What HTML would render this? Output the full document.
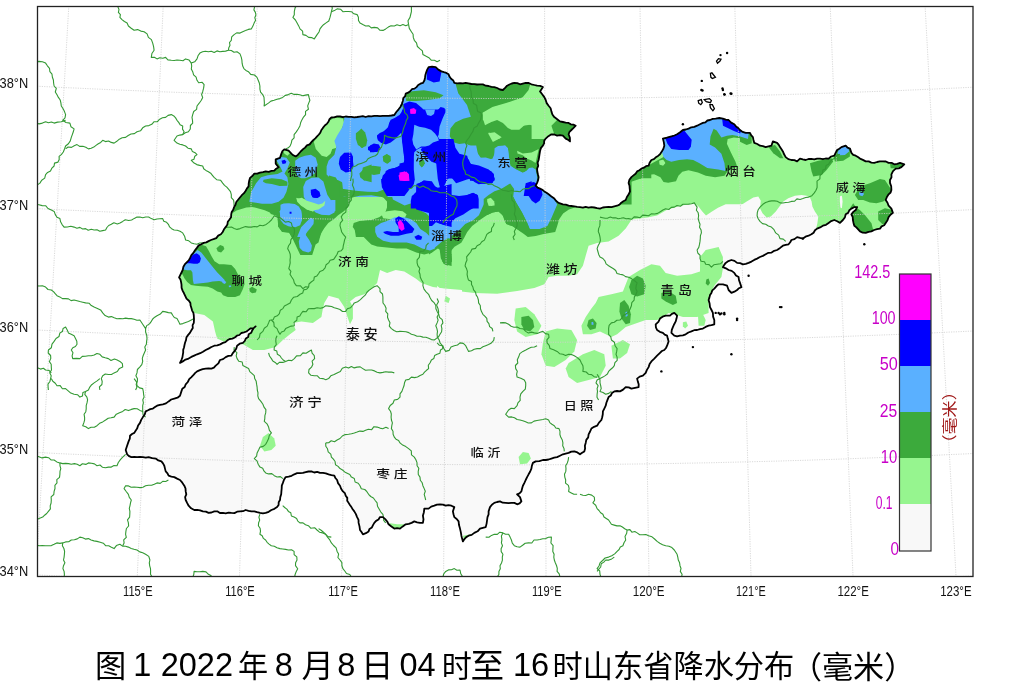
<!DOCTYPE html>
<html><head><meta charset="utf-8"><title>山东省降水分布</title>
<style>html,body{margin:0;padding:0;background:#fff;width:1022px;height:691px;overflow:hidden}
svg{display:block}
</style></head><body>
<svg width="1022" height="691" viewBox="0 0 1022 691">
<rect width="1022" height="691" fill="#fff"/>
<defs><clipPath id="sd"><polygon points="181.5,359.8 184,347.5 186.4,337.6 191.4,330.3 193.8,322.9 193.8,315.5 191.4,308.1 188.9,300.7 185.2,295.8 182.7,290.9 181.5,284.7 179.1,277.4 180.3,274.9 182.7,270 185.2,263.8 188.9,260.1 191.4,255.2 195,250.3 198.7,245.4 203.7,242.9 213.5,239.2 220.9,234.3 225.8,226.9 229.5,219.5 233.2,209.7 238.1,199.8 245.7,190.7 248.6,186.4 250,177.9 254.3,173.6 262.9,172.1 274.3,170.7 278.6,167.3 275.7,163.6 275.7,159.3 280,157.9 281.4,153.6 284.3,149.3 288.6,150.7 291.4,153.6 295.7,156.4 302.9,149.3 311.4,142.1 317.1,136.4 322.9,127.9 327.1,123.6 331.4,117.3 337.1,116.4 354.3,117.3 371.4,116.4 385.7,115.9 394.3,115 398.6,109.3 402.9,100.7 405.7,93.6 422.9,82.9 428.6,67.1 435.7,67.1 441.4,71.4 448.6,74.3 454.3,82.9 465.7,82.9 480,84.3 494.3,87.1 502.9,90 507.1,85.7 514.3,82.9 520,84.3 525.7,82.9 531.4,84.3 537.1,85.7 542.9,87.1 540,91.4 544.3,97.1 548.6,105.7 551.4,111.4 554.3,117.1 560,121.4 568.6,122.9 575.7,125.7 571.4,130 568.6,134.3 570,141.4 565.7,138.6 562.9,135.7 551.4,134.3 545.7,138.6 542.9,145.7 540,151.4 538.6,160 537.1,168.6 538.6,177.1 537.1,182.9 535.7,185.7 540,188.6 544.3,191.4 548.6,194.3 554.3,198.6 558.6,202.9 562.9,204.3 568.6,205.7 580,207.1 591.4,207.1 600,208.6 605.7,207.1 617.1,205.7 625.7,200 630,191.4 628.6,182.9 631.4,177.1 637.1,171.4 648.6,165.7 651.4,160 660,154.3 664.3,145.7 662.9,138.6 668.6,137.1 677.1,134.3 682.9,130 688.6,128.6 697.1,125.7 702.9,122.9 710,120 715.7,118.6 722.9,118.6 728.6,120 734.3,124.3 740,130 745.7,132.9 750,132.9 752.9,137.1 754.3,142.9 760,145.7 765.7,147.1 771.4,145.7 772.9,141.4 777.1,142.9 780,147.1 782.9,151.4 785.7,157.1 791.4,160 797.1,161.4 800,158.6 805.7,160 817.1,158.6 828.6,158.6 834.3,155.7 837.1,150 841.4,147.1 845.7,145.7 850,148.6 851.4,152.9 855.7,155.7 860,158.6 865.7,161.4 874.3,162.9 882.9,161.4 888.6,162.9 894.3,164.3 900,162.9 904.3,164.3 901.4,167.1 895.7,168.6 891.4,174.3 890,182.9 891.4,190 888.6,194.3 885.7,200 888.6,205.7 891.4,208.6 892.9,212.9 888.6,217.1 885.7,222.9 880,228.6 871.4,231.4 865.7,232.9 860,231.4 854.3,225.7 852.9,220 851.4,214.3 855.7,210 857.1,207.1 851.4,208.6 845.7,214.3 842.9,220 840,222.9 834.3,220 828.6,222.9 822.9,225.7 817.1,228.6 811.4,234.3 808.6,235.7 802.9,238.6 797.1,237.1 791.4,240 788.6,244.3 782.9,245.7 777.1,250 765.7,254.3 757.1,258.6 748.6,262.9 742.9,264.3 737.1,262.9 731.4,260 725.7,262.9 722.9,267.1 728.6,270 734.3,272.9 738.6,277.1 740,282.9 741.4,287.1 737.1,290 731.4,292.9 728.6,290 727.1,285.7 722.9,284.3 718.6,284.3 714.3,288.6 711.4,292.9 708.6,300 710,307.1 712.9,312.9 714.3,320 714.3,324.3 708.6,325.7 702.9,328.6 697.1,330 691.4,331.4 685.7,334.3 680,335.7 674.3,335.7 671.4,332.9 672.9,327.1 675.7,321.4 677.1,315.7 674.3,312.9 670,315.7 665.7,315.7 660,318.6 655.7,324.3 657.1,330 662.9,332.9 667.1,335.7 668.6,341.4 667.1,345.7 664.3,350 660,352.9 657.1,355.7 654.3,358.6 651.4,361.4 648.6,367.1 645.7,372.9 642.9,375.7 637.1,378.6 638.6,387.1 631.4,388.6 625.7,387.1 620,391.4 614.3,391.4 608.6,397.1 605.7,405.7 602.9,411.4 601.4,420 597.1,425.7 591.4,428.6 588.6,434.3 585.7,442.9 584.3,451.4 580,454.3 574.3,451.4 568.6,452.9 562.9,454.3 557.1,457.1 551.4,458.6 542.9,460 535.7,461.4 532.9,462.9 531.4,468.6 528.6,474.3 525.7,480 522.9,485.7 521.4,491.4 517.1,494.3 520,497.1 521.4,501.4 517.1,504.3 511.4,502.9 505.7,502.9 500,501.4 494.3,502.9 490,507.1 488.6,511.4 487.1,520 485.7,527.1 480,528.6 474.3,532.9 468.6,535.7 462.9,541.4 461.4,535.7 460,528.6 458.6,521.4 454.3,517.1 452.9,511.4 454.3,507.1 451.4,505.7 445.7,505.7 440,504.3 434.3,505.7 428.6,508.6 424.3,508.6 422.9,515.7 422.9,522.9 414.3,521.4 405.7,524.3 400,528.6 394.3,528.6 388.6,524.3 382.9,517.1 380,517.1 374.3,522.9 368.6,531.4 362.9,534.3 360,530 358.6,522.9 357.1,517.1 354.3,511.4 351.4,507.1 348.6,502.9 345.7,495.7 342.9,491.4 340,485.7 337.1,480 334.3,475.7 328.6,474.3 320,472.9 311.4,471.4 302.9,472.9 294.3,474.3 285.7,477.1 282.9,482.9 281.4,491.4 280,500 277.1,507.1 271.4,510 265.7,512.9 260,512.9 254.3,511.4 245.7,510 240,511.4 231.4,512.9 222.9,512.9 214.3,511.4 208.6,512.9 202.9,511.4 194.3,510 188.6,505.7 185.7,500 185.7,491.4 184.3,485.7 180,480 174.3,477.1 168.6,475.7 165.7,471.4 164.3,465.7 161.4,461.4 155.7,458.6 148.6,457.1 142.9,457.1 137.1,457.1 131.4,457.1 127.1,454.3 125.7,450 127.1,445.7 128.6,441.4 130,435.7 134.3,432.9 137.1,428.6 140,422.9 142.9,417.1 145.7,411.4 152.9,408.6 157.1,405.7 162.9,404.3 168.6,401.4 174.3,398.6 180,395.7 181.4,391.4 185.7,384.3 191.4,377.1 197.1,371.4 205.7,368.6 211.4,368.6 215.7,365.7 220,360 225.7,357.1 231.4,355.7 234.3,351.4 237.1,345.7 242.9,342.9 255.6,326.4 222.9,342.9 214.3,345.7 205.7,350 197.1,354.3 188.6,358.6 180,362.9"/></clipPath><clipPath id="fr"><rect x="37" y="6" width="936" height="570"/></clipPath></defs>
<g clip-path="url(#sd)"><rect x="0" y="0" width="1022" height="691" fill="#96f58f"/>
<polygon points="187.1,308.6 194.3,312.9 204.3,314.9 212.9,321.4 215.1,331.4 217.1,338.6 227.1,342.9 242.9,344.3 252.9,350 264.3,350 275.7,347.1 282.9,340 290,334.3 295.7,330 292.9,322.9 301.4,321.4 312.9,322.9 321.4,317.1 322.9,308.6 324.3,302.9 328.6,295.7 338.6,298.6 344.3,307.1 347.1,315.7 350,324.3 352.9,318.6 352.9,307.1 350,301.4 355.7,297.1 364.3,294.3 370,290 377.1,282.9 380,270 387.1,272.9 395.7,270 404.3,271.4 415.7,278.6 421.4,282.9 432.9,287.1 444.3,288.6 462,290 462,582.9 84.3,582.9 84.3,308.6" fill="#f9f9f9"/>
<polygon points="437.1,285.7 440,288.6 457.1,290.9 474.3,292.9 497.1,293.7 517.1,290.9 534.3,288 544.3,284.3 548.6,277.1 557.1,275.7 568.6,275.7 577.1,274.3 582.9,265.7 585.7,255.7 588.6,245.7 597.1,242.9 608.6,241.4 618.6,235.7 625.7,228.6 631.7,219.4 647.4,217.4 657.1,215.4 667.1,209.7 678.6,206.3 694.3,202.9 698.3,206.3 702.3,211.4 706,215.4 712,211.4 718,207.7 725.7,204.3 754.3,204.3 754.3,571.4 437.1,571.4" fill="#f9f9f9"/>
<polygon points="730,208.3 740,205.8 746.7,201.6 753.3,197.4 758.3,196.6 760.8,200.8 760,208.3 762.5,213.3 766.6,217.4 770.8,216.6 775.8,211.6 780,205.8 783.3,201.6 788.3,198.3 794.9,195.8 801.6,194.9 806.6,195.8 809.9,197.4 811.6,201.6 812.4,206.6 814.9,211.6 818.3,216.6 817.4,223.2 815.8,229.9 813.3,236.6 811.6,249.9 813.3,279.9 730,279.9" fill="#f9f9f9"/>
<polygon points="839.9,196.3 841.9,195.8 842.6,201.6 841.9,208.3 840.4,207.4 839.9,201.6" fill="#f9f9f9"/>
<polygon points="598.6,297.1 611.4,294.3 622.9,291.4 628.6,277.1 640,270 651.4,264.3 660,265.7 665.7,272.9 677.1,275.7 691.4,274.3 700,271.4 700,257.1 705.7,250 718.6,247.1 722.9,257.1 722.9,268.6 721.4,277.1 714.3,285.7 711.4,291.4 708.6,302.9 708.6,312.9 697.1,317.1 682.9,317.1 674.3,314.3 668.6,312.9 662.9,317.1 657.1,320 645.7,320 637.1,322.9 625.7,327.1 617.1,334.3 611.4,337.1 605.7,334.3 600,331.4 591.4,334.3 582.9,334.3 581.4,325.7 585.7,317.1 591.4,308.6 595.7,302.9" fill="#96f58f"/>
<polygon points="515.7,308.6 525.7,307.1 534.3,314.3 541.4,325.7 537.1,334.3 525.7,337.1 517.1,331.4 514.3,320" fill="#96f58f"/>
<polygon points="545.7,331.4 557.1,328.6 571.4,330 577.1,340 574.3,351.4 565.7,360 554.3,367.1 545.7,365.7 541.4,354.3 542.9,342.9" fill="#96f58f"/>
<polygon points="568.6,362.9 582.9,354.3 594.3,350 604.3,354.3 605.7,365.7 600,377.1 588.6,380 577.1,382.9 568.6,377.1 565.7,368.6" fill="#96f58f"/>
<polygon points="611.4,345.7 622.9,340 630,344.3 627.1,352.9 620,358.6 612.9,358.6" fill="#96f58f"/>
<polygon points="445.7,295.7 450,298.6 448.6,302.9 444.3,301.4" fill="#96f58f"/>
<polygon points="682.9,322.3 686.3,321.4 688,325.7 685.1,328.6 682.9,326.3" fill="#96f58f"/>
<polygon points="698,315.7 702.9,314.3 705.7,320 704.3,325.7 698.6,325.7" fill="#96f58f"/>
<polygon points="262.9,437.1 268.6,432.9 274.3,438.6 275.7,445.7 271.4,450 264.3,451.4 260,445.7" fill="#96f58f"/>
<polygon points="518.6,457.1 522.9,452 528.6,452.9 530.9,458.6 527.1,463.4 520,464.3" fill="#96f58f"/>
<polygon points="388.6,522.9 397.1,524.3 405.7,524.3 404.3,528.6 394.3,530" fill="#96f58f"/>
<polygon points="462.9,535.7 471.4,534.3 480,530 486.3,526.3 486.3,535.7 474.3,538.6 464.3,541.4" fill="#96f58f"/>
<polygon points="521.4,317.1 528.6,315.7 532.9,320 534.3,327.1 530,331.4 524.3,330 521.4,324.3" fill="#3caa3c"/>
<polygon points="631.4,280 637.1,275.7 642.9,278.6 645.7,285.7 644.3,294.3 637.1,296.6 631.4,294.3 629.1,287.1" fill="#3caa3c"/>
<polygon points="661.4,292.9 668.6,290.9 675.7,295.7 677.1,302.9 672.9,305.1 665.7,301.4 661.4,298.6" fill="#3caa3c"/>
<polygon points="620,302.9 624.3,300 628.6,305.7 630.9,314.3 630,322.9 625.7,324.3 621.4,318.6 619.4,311.4" fill="#3caa3c"/>
<polygon points="588.6,320 592.9,318.6 596.6,322.9 595.7,328.6 590,330 587.1,325.7" fill="#3caa3c"/>
<polygon points="706.3,279.4 708.6,278.6 710,282.9 708,285.7 705.7,283.4" fill="#3caa3c"/>
<polygon points="442.9,250 447.1,248.6 451.4,254.3 452,261.4 447.1,265.7 442.3,261.4" fill="#3caa3c"/>
<polygon points="854.9,194.9 859.9,186.6 869.9,183.3 879.9,179.1 884.9,180 888.2,184.9 891.5,189.9 889.9,196.6 883.2,201.6 876.5,203.3 869.9,202.4 863.2,199.9 858.2,199.9" fill="#3caa3c"/>
<polygon points="853.2,203.3 856.6,208.3 859.9,209.9 864.9,214.9 871.5,223.2 873.2,229.9 873.2,239.9 856.6,239.9 851.6,223.2 849.9,208.3" fill="#3caa3c"/>
<polygon points="878.2,211.6 884.9,208.3 893.2,209.9 893.2,226.6 886.5,225.7 881.5,223.2 878.2,219.9" fill="#3caa3c"/>
<polygon points="809.9,163.3 818.3,160.8 831.6,158.3 833.2,161.6 826.6,170 821.6,175 813.3,176.6 811.6,171.6" fill="#3caa3c"/>
<polygon points="768.3,146.7 775,145 780,151.6 783.3,158.3 780,158.3 773.3,153.3" fill="#3caa3c"/>
<polygon points="833.2,155 839.9,146.7 849.9,146.7 849.9,156.6 843.2,160.8 834.9,161.6" fill="#3caa3c"/>
<polygon points="889.9,162.5 899.8,160 906.5,161.6 904.8,166.6 894.8,168.3 890.7,168.3" fill="#3caa3c"/>
<polygon points="740,130 751.7,130 751.7,143.3 746.7,145 740,141.7" fill="#3caa3c"/>
<polygon points="640,167.9 649.4,164.8 663.5,157 663.5,141.3 702.6,110 752.7,110 752.7,131.9 749.6,142.9 740.2,138.2 733.9,137.4 727.7,139 726.9,143.7 730.8,152.3 735.5,161.7 737.1,166.4 727.7,171.1 724.5,175.8 715.1,177.3 705.8,175.8 697.9,172.6 688.5,170.3 682.3,171.8 678.4,175.8 676,181.2 668.2,182.8 663.5,182 660.4,177.3 654.1,174.2 646.3,175 640,178.9" fill="#3caa3c"/>
<polygon points="170,100 370,100 370,192 365.7,192 357.9,193.9 350,195.9 346.1,199.8 342.2,206.7 338.3,212.5 332.4,215.5 324.6,219.4 322.6,226.2 321.1,233.5 317.9,239.7 293.3,239.7 289.2,232.7 282.1,231.7 278,226.2 278,220.7 277.2,215.9 270.8,213.9 267.8,208.6 263.9,206.7 256.1,206.7 246.3,207.6 236.5,210.6 228.7,215.5 218.9,227.2 170,227.2" fill="#3caa3c"/>
<polygon points="354,225.2 359.8,221.3 370,220.4 370,237 355.9,237" fill="#3caa3c"/>
<polygon points="329,59 531.6,59 531.6,196 329,196" fill="#3caa3c"/>
<polygon points="249,179 351.8,179 350.8,197.6 349.8,202.5 347.8,207.4 343.9,211.3 338.1,215.2 334.1,219.1 328.3,223.1 324.4,227.9 321,233.4 318.5,242.6 315.6,244.6 312.2,255 300.3,255 293.2,239.9 289.1,232.6 282.1,231.9 278.2,226.4 277.4,215.8 264.7,210.3 254.9,207.6 249,206.4" fill="#3caa3c"/>
<polygon points="353.7,223.1 359.6,221.1 371.3,220.1 379.2,217.2 385,213.3 387,207.4 387,201.5 383.1,197.2 371.3,195.3 359.6,195.7 351.8,197.6 350.8,179 451.6,179 451.6,266.1 443.7,264.1 440.8,258.3 439.8,250.5 437.9,242.6 435.9,248.5 432,252.4 424.2,254.4 416.3,252.4 406.6,248.5 396.8,248.5 387,247.5 377.2,246.5 371.3,244.6 367.4,240.7 363.5,236.8 359.6,234.8 355.7,230.9 352.7,227" fill="#3caa3c"/>
<polygon points="429,139 631.6,139 631.6,204.6 578.7,204.6 574.8,207.5 568.9,209.5 563.1,213.4 559.2,219.3 557.2,226.1 555.2,232 549.4,233 543.5,233.9 535.7,235.9 527.8,236.9 523.9,233.9 518.1,230 512.2,226.1 506.3,224.1 504.4,220.2 502.4,214.4 498.5,211.4 492.6,212.4 486.8,215.3 480.9,219.3 477,222.2 472.1,226.1 467.2,232 464.2,237.8 461.3,242.7 454.5,246.7 450.5,251.5 451.5,259.4 447.6,265.2 444.7,264.3 441.4,255.5 441.7,250.6 437.8,248.6 429,254.5" fill="#3caa3c"/>
<polygon points="625.9,176.3 635.7,172.4 647.4,166.5 651.3,164.6 651.3,178.3 641.5,178.3 635.7,180.2 629.8,182.2 625.9,182.2" fill="#3caa3c"/>
<polygon points="198.5,246.3 202.3,244.9 206,246.3 208.9,251 211.7,256.6 214.5,261.3 219.2,264.2 223.9,264.2 231.4,265.1 235.2,268.9 238,274.5 242.7,279.2 244.6,283.9 242.7,289.6 239.9,295.2 235.2,297.1 227.7,297.1 223,295.2 221.1,292.4 217.3,291.4 212.6,288.6 207.9,286.7 201.3,286.3 195.7,285.8 191,284.9 187.2,282 184.4,278.3 182.5,274.5 178.8,270.7 180.6,266 184.4,262.3 190.1,256.6 193.8,251.9" fill="#3caa3c"/>
<polygon points="216.4,248.2 220.2,244.9 223.4,246.3 224.4,249.1 221.1,252.4 217.8,251.5" fill="#3caa3c"/>
<polygon points="249.3,288.6 252.1,286.7 256.8,289.6 255.9,292.4 252.1,293.3 249.8,291.4" fill="#3caa3c"/>
<polygon points="659.6,160.9 662.7,159.8 665,162.4 663.5,165.1 660,164.5" fill="#96f58f"/>
<polygon points="328.5,121.5 334.4,117.6 343.2,118.6 344.2,123.5 340.3,131.3 335.4,138.2 333.4,146 330.5,153.8 326.6,157.1 321.7,155.8 315.8,148.9 313.8,142.1 318.7,134.2 324.6,126.4" fill="#96f58f"/>
<polygon points="282.5,149.9 287.4,148.9 290.4,152.8 287.4,155.8 284.5,153.8" fill="#96f58f"/>
<polygon points="296.2,197.8 305,201.8 310.9,204.7 316.8,206.7 318.7,209.6 312.9,211.5 307,209.6 301.1,205.7 297.2,201.8" fill="#96f58f"/>
<polygon points="482.6,112.8 492.4,107 506.1,103.1 517.9,99.1 531.6,97.2 531.6,124.6 517.9,126.5 510,124.6 502.2,120.7 496.3,116.8 488.5,118.7 483.6,118.7" fill="#96f58f"/>
<polygon points="488.5,132.4 496.3,134.4 500.3,138.3 494.4,140.2" fill="#96f58f"/>
<polygon points="329,120.7 335.9,119.7 340.8,122.6 341.7,128.5 338.8,134.4 337.8,142.2 335.9,148.1 329,150" fill="#96f58f"/>
<polygon points="297,198.6 304.8,199.6 312.6,202.5 318.5,204.5 317.5,209.4 312.6,211.3 306.8,209.4 300.9,204.5" fill="#96f58f"/>
<polygon points="381.1,213.3 387,211.3 394.8,210.3 402.6,211.3 406.6,214.2 404.6,218.2 396.8,219.1 388.9,219.1 383.1,218.2" fill="#96f58f"/>
<polygon points="488,133.2 494.6,132.3 501.7,137.2 492.9,142" fill="#96f58f"/>
<polygon points="517.1,150.8 522.8,153.5 531.6,152.6 538.7,149 536.9,157 535.6,163.1 531.6,160.5 527.2,158.7 522.8,155.2 517.5,153.5" fill="#96f58f"/>
<polygon points="499.9,115.6 558,115.6 558,121.8 554.5,124.4 551,129.7 546.6,131.4 538.7,128.8 531.6,125.3 526.3,123.5 519.3,129.7 511.4,129.7 507.9,127.9 503.5,123.5" fill="#96f58f"/>
<polygon points="483.2,119.6 492,119.6 490.2,122.6 485,125.3" fill="#96f58f"/>
<polygon points="659.2,160.7 663.1,159.7 665.4,163 663.1,165.8 659.5,164.6" fill="#96f58f"/>
<polygon points="482.9,112.9 494.3,107.1 514.3,101.4 522.9,97.1 528.6,90 531.4,80 548.6,80 545.7,100 551.4,111.4 552.9,120 551.4,125.7 545.7,128.6 540,125.7 534.3,122.9 525.7,120 517.1,124.3 508.6,125.7 502.9,122.9 497.1,120 488.6,122.9 482.9,120" fill="#96f58f"/>
<polygon points="625.4,312.3 627.1,311.4 627.7,315.7 625.7,317.1" fill="#5ab0ff"/>
<polygon points="591.4,322.3 593.1,321.7 593.7,324.6 591.7,325.1" fill="#5ab0ff"/>
<polygon points="837.4,153.3 839.9,146.7 848.2,146.7 849.1,151.6 844.9,155 839.9,155.3" fill="#5ab0ff"/>
<polygon points="859,192.4 862.4,191.3 864,194.1 862.4,196.3 859.5,195.3" fill="#5ab0ff"/>
<polygon points="892.8,185.8 895.7,184.9 896.5,189.1 894,189.6" fill="#5ab0ff"/>
<polygon points="663.5,157 658.8,141.3 671.3,125.7 702.6,116.3 726.1,110 749.6,125.7 748,139 740.2,136.6 732.4,135 726.9,135.8 721.4,137.4 716.7,130.4 713.6,128.8 710.5,136.6 709.7,144.4 715.1,147.6 721.4,153.8 724.5,163.2 725.3,171.1 718.3,169.5 707.3,167.9 699.5,163.2 693.2,160.1 687,159.3 679.1,160.1 671.3,161.7 666.6,160.1" fill="#5ab0ff"/>
<polygon points="249.3,201.8 251.2,192 256.1,183.2 261,177.3 267.8,175.3 277.6,174 282.5,171.4 279.6,165.6 276.7,160.7 279.6,156.8 286.4,157.7 289.8,162.6 287.4,168.5 284.5,173.4 287.4,177.3 288.4,184.1 286.4,192 283.5,197.8 278.6,201.8 271.8,203.7 262,203.7 256.1,202.7" fill="#5ab0ff"/>
<polygon points="295.2,160.7 299.2,157.7 305,155.8 310.9,154.8 315.8,157.7 317.7,164.6 315.8,172.4 310.9,176.3 305,178.3 301.1,178.3 297.2,176.3 295.2,170.5" fill="#5ab0ff"/>
<polygon points="279.6,211.5 283.5,205.7 289.4,203.7 296.2,205.7 301.1,211.5 302.1,219.4 300.1,225.2 295.2,227.2 287.4,225.2 282.5,221.3 280.6,217.4" fill="#5ab0ff"/>
<polygon points="297.2,237 301.1,227.2 307,221.3 310.9,217.4 313.8,219.4 310.9,225.2 307,231.1 305,237" fill="#5ab0ff"/>
<polygon points="344.2,111.7 371.6,111.7 371.6,191 350,191 346.1,188.1 342.2,182.2 338.3,180.2 330.5,178.3 326.6,174.4 326.6,166.5 328.5,160.7 334.4,154.8 336.3,147 334.4,141.1 337.3,135.2 342.2,127.4 344.2,119.6" fill="#5ab0ff"/>
<polygon points="346.6,118.7 349.6,108.9 388.7,99.1 404.4,79.6 423.9,60 455.2,60 455.2,82.5 458.2,93.3 467,105 470.9,116.8 463.1,118.7 455.2,122.6 450.4,128.5 449.8,136.3 453.3,142.2 459.2,144.1 465,143.2 470.9,146.1 476.8,152 480.7,157.8 486.6,159.8 492.4,158.8 495.4,152 498.3,147.1 505.1,145.5 507.9,148.3 508.7,155.1 509.6,161.4 510.4,165.9 515.7,169.2 522.8,172.7 526.3,171.2 531.6,169.6 531.6,197 343.7,197 341.7,177.4 337.8,173.5 337.8,153.9 345.7,146.1 348.6,134.4" fill="#5ab0ff"/>
<polygon points="280.5,204.8 283.7,203.6 288.4,203.2 294.8,204 298.8,206.4 301.2,210.4 302,215.9 301.6,220.7 299.6,223.9 296.4,226.3 292.4,227.1 288.4,226.3 283.7,223.9 280.5,219.9 280.1,214.3 280.5,209.6" fill="#5ab0ff"/>
<polygon points="302.8,231.8 307.5,225.5 311.5,220.7 313.9,219.9 313.5,223.9 309.9,228.7 305.2,234.2 309.1,239.8 311.9,245.4 311.1,251 308.3,252.5 302.8,251 299.6,247.8 298.8,241.4 300.4,236.6 302,234.2" fill="#5ab0ff"/>
<polygon points="318.7,213.5 322.7,208 326.7,203.2 331.4,200 335.4,200 335.4,211.1 330.6,213.5 325.1,214.7" fill="#5ab0ff"/>
<polygon points="342,179 387,179 385,187.8 377.2,191.7 367.4,190.8 355.7,189.8 345.9,187.8" fill="#5ab0ff"/>
<polygon points="375.2,227 381.1,223.1 387,221.1 394.8,217.2 404.6,217.2 410.5,219.1 416.3,223.1 420.3,228.9 426.1,232.8 430,236.8 434,242.6 434.9,248.5 430,250.5 422.2,248.5 414.4,244.6 406.6,242.6 398.7,242.6 390.9,242.6 383.1,240.7 377.2,236.8 375.2,231.9" fill="#5ab0ff"/>
<polygon points="387,179 451.6,179 451.6,238.7 437.9,236.8 435.9,228.9 432,219.1 426.1,213.3 418.3,209.4 410.5,203.5 404.6,205.4 398.7,202.5 392.9,199.6 390.9,191.7 387,185.9" fill="#5ab0ff"/>
<polygon points="430,145.9 469.9,145.5 476.2,145.5 477.6,152.5 478.7,157.8 485.8,157.4 495.2,160.5 494.2,155.3 494.6,148.2 498.1,146.1 505.1,145.5 507.9,148.2 508.7,155.3 509.6,161.3 510.4,165.8 515.7,169.4 522.8,172.9 526.3,171.1 529,168 532.5,167.6 535.7,169.4 537.8,179.9 547.4,190.9 555.2,200.7 557.2,204.6 551.3,218.3 547.4,226.1 539.6,229 529.8,229 526.9,222.2 522,212.4 516.1,202.6 513.2,196.8 514.1,188.9 510.2,184 502.4,187.9 492.6,193.8 486.8,198.7 482.8,206.5 478.9,215.3 473.1,220.2 465.2,224.1 459.4,230 451.5,235.9 441.7,241.8 433.9,248.6 429,249.6" fill="#5ab0ff"/>
<polygon points="303.2,187 305.8,181.1 311.6,177.8 318.5,177.6 323.4,181.5 325.3,187.9 327.3,194.8 330.6,199.7 334.1,205.6 334.5,212.4 329.3,215.3 321.4,214.8 315.6,212.4 310.7,207.5 306.8,202.6 303.8,196.8" fill="#5ab0ff"/>
<polygon points="197.6,250.1 201.3,252.4 206,258.5 209.8,263.2 213.6,267.9 217.3,272.6 222,277.3 224.9,280.2 223,282 219.2,281.1 212.6,281.6 207.9,282.5 203.2,283 198.5,283.4 193.8,283.9 192.9,280.2 192.4,272.6 191,270.3 187.2,270.3 180.6,268.9 182.5,264.2 189.1,259.5 193.8,253.8" fill="#5ab0ff"/>
<polygon points="222,281.1 223.9,280.2 226.3,282 224.9,283.9 222.5,283" fill="#5ab0ff"/>
<polygon points="228.6,285.8 230.5,285.3 231.4,286.7 229.1,287.2" fill="#5ab0ff"/>
<polygon points="263.5,179.8 271.8,178.3 281.5,179.3 287.4,181.8 287.4,185.7 279.6,186.1 271.8,184.1 265.9,183.2 263,181.8" fill="#3caa3c"/>
<polygon points="355.9,133.3 360.8,129.4 363.7,135.2 365.7,143.1 362.8,147.9 357.9,145 355.9,139.1" fill="#3caa3c"/>
<polygon points="362.8,167.5 371.6,164.6 371.6,182.2 363.7,180.2 361.8,174.4" fill="#3caa3c"/>
<polygon points="405.3,94.2 412.2,91.3 423.9,90.3 435.7,92.3 443.5,95.2 439.6,98.2 427.8,100.1 416.1,101.1 406.3,101.1" fill="#3caa3c"/>
<polygon points="356.4,134.4 361.3,128.5 365.2,132.4 367.2,140.2 366.2,146.1 361.3,148.1 357.4,142.2" fill="#3caa3c"/>
<polygon points="382.8,156.9 386.8,153.9 389.7,155.9 390.7,160.8 387.7,163.7 383.8,161.8" fill="#3caa3c"/>
<polygon points="359.4,173.5 365.2,167.6 373.1,165.7 380.9,166.7 379.9,171.5 373.1,172.5 369.1,175.5 368.2,179.4 364.2,180.4 360.3,177.4" fill="#3caa3c"/>
<polygon points="420,160.8 423,159.8 424.3,163.7 422,166.7 419.6,164.7" fill="#3caa3c"/>
<polygon points="329,175.5 335.9,177.4 339.8,185.2 339.8,197 329,197" fill="#3caa3c"/>
<polygon points="486.8,198.7 494.6,192.8 504.4,187 510.2,183.4 514.1,188.9 513.2,196.8 516.1,202.6 522,212.4 526.9,222.2 529.8,229.6 522,232 512.2,226.1 506.3,224.1 503.4,216.3 498.5,211.4 492.6,212.4 486.8,215.3 483.8,208.5" fill="#3caa3c"/>
<polygon points="342,188.8 355.7,190.8 367.4,191.7 377.2,192.1 386,188.8 388,198.6 383.1,197.2 371.3,195.3 359.6,195.7 351.8,197.6 342,196.6" fill="#3caa3c"/>
<polygon points="382.8,156.3 386.7,154.3 390.7,156.3 390.7,161.2 386.7,163.6 383.3,161.2" fill="#3caa3c"/>
<polygon points="370,166.1 375.9,166.6 380.8,169.1 379.8,174 373.9,175 370,174" fill="#3caa3c"/>
<polygon points="483.7,199.1 488.6,195.1 494.5,191.2 500.4,189.2 500.4,208.4 483.7,208.4" fill="#3caa3c"/>
<polygon points="551.4,125.7 557.1,120 568.6,120 580,124.3 577.1,137.1 571.4,142.9 562.9,137.1 554.3,134.3" fill="#3caa3c"/>
<polygon points="487.1,200.7 490.7,197.7 494.2,201.6 494.6,205.6 488.7,206.1" fill="#96f58f"/>
<polygon points="487.1,199.1 490.6,198.1 494.5,204 491.5,206.1 488.1,204" fill="#96f58f"/>
<polygon points="297,198.7 301.9,197.7 306.8,200.7 312.6,202.6 318.5,204.6 322.4,203.6 325.3,200.7 324.4,205.6 318.5,209.5 312.6,210.5 306.8,208.5 300.9,204.6" fill="#96f58f"/>
<polygon points="663.5,133.5 683.8,125.7 684.6,131.1 691.7,139.7 690.9,146.8 688.5,149.9 679.1,149.9 671.3,149.1 667.4,143.7" fill="#0000ff"/>
<polygon points="721.4,113.1 733.9,113.1 741.8,128.8 740.2,133.5 733.9,131.1 727.7,128 723,125.7" fill="#0000ff"/>
<polygon points="281.5,160.7 284.5,159.7 286.4,161.6 285.5,163.6 282.5,164" fill="#0000ff"/>
<polygon points="311.9,191 315.8,189.6 318.7,192 320.3,195.9 317.7,197.8 313.8,197.5 311.3,194.9" fill="#0000ff"/>
<polygon points="340.3,156.8 344.2,152.8 351,152.4 353,156.8 353,164.6 351,170.5 346.1,172 341.2,168.5 339.3,162.6" fill="#0000ff"/>
<polygon points="289.6,211.7 291.5,211.7 291.5,213.7 289.6,213.7" fill="#0000ff"/>
<polygon points="368,147 370.6,145.4 370.6,151.3 368,149.9" fill="#0000ff"/>
<polygon points="426.9,67.8 433.7,66.8 441.5,71.7 439.6,81.5 433.7,82.5 426.9,79.6" fill="#0000ff"/>
<polygon points="403.4,104 409.3,101.5 416.1,103.1 422,107.9 427.8,114.8 432.7,116.8 436.7,111.3 440.6,107 444.5,107.9 445.5,111.9 442.5,118.7 439.6,126.5 438.6,135.3 435.7,137.3 433.7,131.4 429.8,127.5 423,126.5 417.1,125.6 414.1,126.5 411.2,124.6 407.3,122.6 403.4,118.7 402.4,112.8" fill="#0000ff"/>
<polygon points="377,136.3 382.8,132.4 388.7,126.5 394.6,118.7 400.5,114.8 404.4,115.8 407.3,122.6 404.4,128.5 397.5,134.4 392.6,137.3 388.7,142.2 385.8,144.1 381.9,143.2 377.9,140.2" fill="#0000ff"/>
<polygon points="402.4,118.7 412.2,124.6 413.2,130.5 411.2,138.3 410.2,146.1 411.2,153.9 412.2,161.8 411.2,167.6 405.3,166.7 404.4,159.8 403.4,152 402.4,144.1 401.4,134.4 400.5,124.6" fill="#0000ff"/>
<polygon points="382.8,175.5 388.7,169.6 396.5,167.6 402.4,163.7 407.3,165.7 412.2,169.6 414.1,177.4 412.2,185.2 408.3,191.1 404.4,196 386.8,196 381.9,187.2 381.3,181.3" fill="#0000ff"/>
<polygon points="369.1,148.1 374,144.1 378.9,145.1 380.9,149 377,152 372.1,152" fill="#0000ff"/>
<polygon points="339.8,157.8 343.7,153.9 349.6,153.9 352.5,157.8 353.5,165.7 351.5,171.5 345.7,172.5 340.8,169.6 338.8,163.7" fill="#0000ff"/>
<polygon points="416.1,185.2 423.9,180.4 431.8,181.3 435.7,187.2 439.6,196 416.1,196" fill="#0000ff"/>
<polygon points="525.7,183.3 531.6,181.3 531.6,196 523.7,196" fill="#0000ff"/>
<polygon points="310.7,189.8 315.6,188.8 319.5,191.7 320.5,195.7 317.5,198 312.6,197.6 311.1,194.1" fill="#0000ff"/>
<polygon points="381.1,179 414.4,179 412.4,187.8 404.6,189.8 394.8,188.8 387,187.8 382.1,184.9" fill="#0000ff"/>
<polygon points="416.3,183.9 422.2,182 430,183.9 437.9,187.8 443.7,185.9 451.6,183.9 451.6,227 443.7,225 437.9,223.1 434,219.1 430,213.3 422.2,211.3 416.3,209.4 413.4,201.5 414.4,193.7 418.3,189.8" fill="#0000ff"/>
<polygon points="394.8,219.1 398.7,216.2 404.6,219.1 410.5,225 414.4,228.9 412.4,232.8 406.6,233.8 402.6,234.8 398.7,235.8 390.9,235.8 385,233.8 383.1,231.9 387,230.9 392.9,231.9 398.7,231.9 398.7,227 395.8,223.1" fill="#0000ff"/>
<polygon points="414.4,236.8 418.3,234.8 422.2,236.8 421.2,239.7 416.3,239.7" fill="#0000ff"/>
<polygon points="437.8,139 453.5,139 455.4,147.8 459.4,153.7 467.2,155.7 469.1,163.5 478.9,165.4 488.7,169.4 492.6,173.3 494.6,179.1 492.6,183.1 484.8,184 478.9,183.1 473.1,181.1 469.1,179.1 459.4,177.2 453.5,175.2 447.6,179.1 443.7,187 439.8,187 437.8,179.1 436.8,169.4 435.9,159.6 437.8,151.7" fill="#0000ff"/>
<polygon points="429,188.9 437.8,188.9 445.7,192.8 451.5,196.8 455.4,198.7 463.3,196.8 473.1,192.8 477,194.8 477.9,200.7 476,206.5 469.1,210.5 463.3,214.4 455.4,218.3 451.5,222.2 447.6,226.1 441.7,224.1 435.9,222.2 432,226.1 429,226.1" fill="#0000ff"/>
<polygon points="524.9,187 529.8,183.1 533.7,182.1 537.6,184 541.5,188.9 542.5,194.8 539.6,200.7 535.7,203.6 531.8,200.7 527.8,194.8 525.9,190.9" fill="#0000ff"/>
<polygon points="470,164.9 473.5,166.7 478.8,169.3 485,170.2 491.1,171.1 493.8,174.6 494.6,180.7 470,180.7" fill="#0000ff"/>
<polygon points="376.9,135.6 379.8,133.1 383.8,131.2 387.7,128.2 389.2,122.8 390.7,119.8 394.6,117.9 399.5,114.9 401.5,112 402.5,109.5 445.8,109.5 442.8,115.9 440.9,119.8 438.9,123.8 437.9,129.7 436.9,134.6 438.9,138.5 440.9,141.5 444.8,145.4 448.7,148.4 452.7,151.3 456.6,155.3 460.6,158.2 464.5,161.2 470.4,163.1 470.4,178.4 444.8,178.4 442.8,171 440.9,166.1 437.9,162.2 434,158.2 430,153.3 426.1,149.4 423.1,147.4 420.2,147.9 417.2,149.4 414.3,152.3 413.3,161.2 412.3,169.1 411.3,178.4 384.8,178.4 385.7,171 389.7,169.1 394.6,168.1 399.5,166.1 403.5,164.1 404.4,159.2 403.5,149.4 402.5,139.5 401.5,132.6 398.5,135.6 394.6,139.5 390.7,142.5 385.7,144.4 380.8,142.5 377.9,139.5" fill="#0000ff"/>
<polygon points="370,145.4 373.9,143.5 378.9,144.4 379.8,147.4 377.9,151.3 373.9,152.3 370,152.3" fill="#0000ff"/>
<polygon points="439.4,139.5 442.3,142 447.2,147.9 453.1,154.8 459.1,156.7 465,155.7 468.9,159.7 470.9,164.6 475.8,166.6 482.7,169.5 488.6,170.5 493.5,173.5 494.5,179.4 491.5,182.3 485.6,183.3 478.7,184.3 474.8,182.3 470.9,178.4 466.9,179.4 459.1,182.3 456.1,183.3 453.1,179.4 449.2,174.4 447.2,176.4 444.3,183.3 441.3,187.2 439.4,184.3 438.4,177.4 439.4,171.5 441.3,167.6 436.4,163.6 431.5,161.7 427.6,157.7 423.6,153.8 420.7,149.8 422.6,146.9 425.6,147.9 429.5,150.8 434.4,151.8 437.4,148.9 438.4,143.9" fill="#0000ff"/>
<polygon points="402,139.5 410.8,139.5 412.8,149.8 413.8,159.7 413.8,169.5 414.8,179.4 413.8,184.3 409.8,188.2 405.9,189.2 399.5,189.2 399.5,163.6 403.9,162.6 405.9,159.7 404.9,149.8 403,143.9" fill="#0000ff"/>
<polygon points="411.8,196.1 417.7,191.2 419.7,183.3 423.6,180.4 428.5,181.3 431.5,186.3 435.4,188.2 439.4,189.2 442.3,191.2 447.2,193.1 452.2,195.1 459.1,196.1 466.9,195.1 472.8,193.1 477.8,195.1 478.7,199.1 478.7,208.4 410.8,208.4 410.8,201" fill="#0000ff"/>
<polygon points="310.7,191.9 313.6,189.9 317.5,191.3 319.5,194.8 316.5,197.7 312.6,197.1" fill="#0000ff"/>
<polygon points="182.5,262.3 189.1,259.5 192.9,254.8 196.6,253.3 199.5,255.2 200.9,258.5 199.9,262.3 197.6,263.7 193.8,263.7 190.1,263.2 182.5,263.2" fill="#0000ff"/>
<polygon points="414.3,124.8 419.2,126.7 425.1,127.7 431,129.7 435,133.6 437.9,137.6 438.9,140.5 433,142.5 429.1,145.4 425.1,146.4 421.2,146.4 416.3,149.4 413.3,144.4 412.3,139.5 413.3,134.6 413.8,129.7" fill="#5ab0ff"/>
<polygon points="425.1,109.5 435,109.5 434,113.9 431,115.9 427.1,114.9" fill="#5ab0ff"/>
<polygon points="419.2,161.2 423.1,162.2 424.1,165.1 421.7,167.6 419.7,165.1" fill="#3caa3c"/>
<polygon points="419.7,160.2 423.6,159.7 425.1,163.6 422.1,166.8 419.7,164.1" fill="#3caa3c"/>
<polygon points="410.2,108.9 414.1,107.9 416.1,110.9 415.1,113.8 410.6,113.8" fill="#ff00ff"/>
<polygon points="398.5,175.5 404.4,171.5 408.3,173.5 409.3,180.4 404.4,180.9 399.5,179.8" fill="#ff00ff"/>
<polygon points="397.7,222.1 400.7,220.1 403.6,224 404.6,228.9 401.7,230.9 398.7,227.9" fill="#ff00ff"/>
<polygon points="410.4,109.5 416.3,109.5 415.8,113.4 410.4,113.4" fill="#ff00ff"/>
<polygon points="403.5,173 406.4,171.5 408.4,174 408.9,178.4 402.5,178.4" fill="#ff00ff"/>
<polygon points="399.5,172.5 404.9,171.5 408.9,174.4 409.4,180.8 399.5,180.8" fill="#ff00ff"/>
</g>
<g clip-path="url(#fr)" fill="none" stroke="#cfcfcf" stroke-width="0.8" stroke-dasharray="1.2,1.2">
<path d="M68.8,6 L36.0,576"/>
<path d="M163.2,6 L137.3,576"/>
<path d="M257.2,6 L239.5,576"/>
<path d="M352.6,6 L341.6,576"/>
<path d="M448,6 L443.6,576"/>
<path d="M544.6,6 L546,576"/>
<path d="M640,6 L649,576"/>
<path d="M734.8,6 L751,576"/>
<path d="M830.2,6 L853,576"/>
<path d="M925.1,6 L956,576"/>
<path d="M37,86.2 L45,86.6 L53,87.0 L61,87.4 L69,87.8 L77,88.1 L85,88.5 L93,88.9 L101,89.2 L109,89.6 L117,89.9 L125,90.3 L133,90.6 L141,90.9 L149,91.3 L157,91.6 L165,91.9 L173,92.2 L181,92.5 L189,92.8 L197,93.0 L205,93.3 L213,93.6 L221,93.8 L229,94.1 L237,94.3 L245,94.6 L253,94.8 L261,95.0 L269,95.2 L277,95.4 L285,95.6 L293,95.8 L301,96.0 L309,96.2 L317,96.4 L325,96.6 L333,96.7 L341,96.9 L349,97.0 L357,97.2 L365,97.3 L373,97.4 L381,97.5 L389,97.6 L397,97.7 L405,97.8 L413,97.9 L421,98.0 L429,98.1 L437,98.2 L445,98.2 L453,98.3 L461,98.3 L469,98.4 L477,98.4 L485,98.5 L493,98.5 L501,98.5 L509,98.5 L517,98.5 L525,98.5 L533,98.5 L541,98.5 L549,98.4 L557,98.4 L565,98.4 L573,98.3 L581,98.3 L589,98.2 L597,98.1 L605,98.1 L613,98.0 L621,97.9 L629,97.8 L637,97.7 L645,97.6 L653,97.5 L661,97.3 L669,97.2 L677,97.1 L685,96.9 L693,96.8 L701,96.6 L709,96.5 L717,96.3 L725,96.1 L733,95.9 L741,95.7 L749,95.5 L757,95.3 L765,95.1 L773,94.9 L781,94.7 L789,94.4 L797,94.2 L805,94.0 L813,93.7 L821,93.4 L829,93.2 L837,92.9 L845,92.6 L853,92.3 L861,92.0 L869,91.7 L877,91.4 L885,91.1 L893,90.8 L901,90.5 L909,90.1 L917,89.8 L925,89.4 L933,89.1 L941,88.7 L949,88.3 L957,88.0 L965,87.6 L973,87.2"/>
<path d="M37,208.6 L45,209.0 L53,209.4 L61,209.8 L69,210.2 L77,210.5 L85,210.9 L93,211.3 L101,211.6 L109,212.0 L117,212.3 L125,212.7 L133,213.0 L141,213.3 L149,213.7 L157,214.0 L165,214.3 L173,214.6 L181,214.9 L189,215.2 L197,215.4 L205,215.7 L213,216.0 L221,216.2 L229,216.5 L237,216.7 L245,217.0 L253,217.2 L261,217.4 L269,217.6 L277,217.8 L285,218.0 L293,218.2 L301,218.4 L309,218.6 L317,218.8 L325,219.0 L333,219.1 L341,219.3 L349,219.4 L357,219.6 L365,219.7 L373,219.8 L381,219.9 L389,220.0 L397,220.1 L405,220.2 L413,220.3 L421,220.4 L429,220.5 L437,220.6 L445,220.6 L453,220.7 L461,220.7 L469,220.8 L477,220.8 L485,220.9 L493,220.9 L501,220.9 L509,220.9 L517,220.9 L525,220.9 L533,220.9 L541,220.9 L549,220.8 L557,220.8 L565,220.8 L573,220.7 L581,220.7 L589,220.6 L597,220.5 L605,220.5 L613,220.4 L621,220.3 L629,220.2 L637,220.1 L645,220.0 L653,219.9 L661,219.7 L669,219.6 L677,219.5 L685,219.3 L693,219.2 L701,219.0 L709,218.9 L717,218.7 L725,218.5 L733,218.3 L741,218.1 L749,217.9 L757,217.7 L765,217.5 L773,217.3 L781,217.1 L789,216.8 L797,216.6 L805,216.4 L813,216.1 L821,215.8 L829,215.6 L837,215.3 L845,215.0 L853,214.7 L861,214.4 L869,214.1 L877,213.8 L885,213.5 L893,213.2 L901,212.9 L909,212.5 L917,212.2 L925,211.8 L933,211.5 L941,211.1 L949,210.7 L957,210.4 L965,210.0 L973,209.6"/>
<path d="M37,330.0 L45,330.4 L53,330.8 L61,331.2 L69,331.6 L77,331.9 L85,332.3 L93,332.7 L101,333.0 L109,333.4 L117,333.7 L125,334.1 L133,334.4 L141,334.7 L149,335.1 L157,335.4 L165,335.7 L173,336.0 L181,336.3 L189,336.6 L197,336.8 L205,337.1 L213,337.4 L221,337.6 L229,337.9 L237,338.1 L245,338.4 L253,338.6 L261,338.8 L269,339.0 L277,339.2 L285,339.4 L293,339.6 L301,339.8 L309,340.0 L317,340.2 L325,340.4 L333,340.5 L341,340.7 L349,340.8 L357,341.0 L365,341.1 L373,341.2 L381,341.3 L389,341.4 L397,341.5 L405,341.6 L413,341.7 L421,341.8 L429,341.9 L437,342.0 L445,342.0 L453,342.1 L461,342.1 L469,342.2 L477,342.2 L485,342.3 L493,342.3 L501,342.3 L509,342.3 L517,342.3 L525,342.3 L533,342.3 L541,342.3 L549,342.2 L557,342.2 L565,342.2 L573,342.1 L581,342.1 L589,342.0 L597,341.9 L605,341.9 L613,341.8 L621,341.7 L629,341.6 L637,341.5 L645,341.4 L653,341.3 L661,341.1 L669,341.0 L677,340.9 L685,340.7 L693,340.6 L701,340.4 L709,340.3 L717,340.1 L725,339.9 L733,339.7 L741,339.5 L749,339.3 L757,339.1 L765,338.9 L773,338.7 L781,338.5 L789,338.2 L797,338.0 L805,337.8 L813,337.5 L821,337.2 L829,337.0 L837,336.7 L845,336.4 L853,336.1 L861,335.8 L869,335.5 L877,335.2 L885,334.9 L893,334.6 L901,334.3 L909,333.9 L917,333.6 L925,333.2 L933,332.9 L941,332.5 L949,332.1 L957,331.8 L965,331.4 L973,331.0"/>
<path d="M37,452.5 L45,452.9 L53,453.3 L61,453.7 L69,454.1 L77,454.4 L85,454.8 L93,455.2 L101,455.5 L109,455.9 L117,456.2 L125,456.6 L133,456.9 L141,457.2 L149,457.6 L157,457.9 L165,458.2 L173,458.5 L181,458.8 L189,459.1 L197,459.3 L205,459.6 L213,459.9 L221,460.1 L229,460.4 L237,460.6 L245,460.9 L253,461.1 L261,461.3 L269,461.5 L277,461.7 L285,461.9 L293,462.1 L301,462.3 L309,462.5 L317,462.7 L325,462.9 L333,463.0 L341,463.2 L349,463.3 L357,463.5 L365,463.6 L373,463.7 L381,463.8 L389,463.9 L397,464.0 L405,464.1 L413,464.2 L421,464.3 L429,464.4 L437,464.5 L445,464.5 L453,464.6 L461,464.6 L469,464.7 L477,464.7 L485,464.8 L493,464.8 L501,464.8 L509,464.8 L517,464.8 L525,464.8 L533,464.8 L541,464.8 L549,464.7 L557,464.7 L565,464.7 L573,464.6 L581,464.6 L589,464.5 L597,464.4 L605,464.4 L613,464.3 L621,464.2 L629,464.1 L637,464.0 L645,463.9 L653,463.8 L661,463.6 L669,463.5 L677,463.4 L685,463.2 L693,463.1 L701,462.9 L709,462.8 L717,462.6 L725,462.4 L733,462.2 L741,462.0 L749,461.8 L757,461.6 L765,461.4 L773,461.2 L781,461.0 L789,460.7 L797,460.5 L805,460.3 L813,460.0 L821,459.7 L829,459.5 L837,459.2 L845,458.9 L853,458.6 L861,458.3 L869,458.0 L877,457.7 L885,457.4 L893,457.1 L901,456.8 L909,456.4 L917,456.1 L925,455.7 L933,455.4 L941,455.0 L949,454.6 L957,454.3 L965,453.9 L973,453.5"/>
<path d="M37,574.9 L45,575.3 L53,575.7 L61,576.1 L69,576.5 L77,576.8 L85,577.2 L93,577.6 L101,577.9 L109,578.3 L117,578.6 L125,579.0 L133,579.3 L141,579.6 L149,580.0 L157,580.3 L165,580.6 L173,580.9 L181,581.2 L189,581.5 L197,581.7 L205,582.0 L213,582.3 L221,582.5 L229,582.8 L237,583.0 L245,583.3 L253,583.5 L261,583.7 L269,583.9 L277,584.1 L285,584.3 L293,584.5 L301,584.7 L309,584.9 L317,585.1 L325,585.3 L333,585.4 L341,585.6 L349,585.7 L357,585.9 L365,586.0 L373,586.1 L381,586.2 L389,586.3 L397,586.4 L405,586.5 L413,586.6 L421,586.7 L429,586.8 L437,586.9 L445,586.9 L453,587.0 L461,587.0 L469,587.1 L477,587.1 L485,587.2 L493,587.2 L501,587.2 L509,587.2 L517,587.2 L525,587.2 L533,587.2 L541,587.2 L549,587.1 L557,587.1 L565,587.1 L573,587.0 L581,587.0 L589,586.9 L597,586.8 L605,586.8 L613,586.7 L621,586.6 L629,586.5 L637,586.4 L645,586.3 L653,586.2 L661,586.0 L669,585.9 L677,585.8 L685,585.6 L693,585.5 L701,585.3 L709,585.2 L717,585.0 L725,584.8 L733,584.6 L741,584.4 L749,584.2 L757,584.0 L765,583.8 L773,583.6 L781,583.4 L789,583.1 L797,582.9 L805,582.7 L813,582.4 L821,582.1 L829,581.9 L837,581.6 L845,581.3 L853,581.0 L861,580.7 L869,580.4 L877,580.1 L885,579.8 L893,579.5 L901,579.2 L909,578.8 L917,578.5 L925,578.1 L933,577.8 L941,577.4 L949,577.0 L957,576.7 L965,576.3 L973,575.9"/>
</g>
<g clip-path="url(#fr)" fill="none" stroke="#339933" stroke-width="1.1" stroke-linejoin="round">
<polyline points="117,4.6 118,7.1 119,9.5 118.4,12.4 120.4,14.6 119.9,17.4 122,19.6 124.4,21.5 127.1,23 128.4,26 131.2,28.2 134.1,30.3 137.6,29.6 140.8,31.1 144.1,31.7 147.1,33.9 148.4,37.4 151.4,39.6 152.7,43.1 153.6,46.7 154.1,50.3 151.9,53.5 151.3,57.4 154.4,57.2 157,58.9 159.7,57.7 162.8,58.2 165.6,57.4 167.9,59.9 171.3,60.3 174.2,60.5 177,60 179.9,60.3 183,60.8 185.6,58.9 189.1,60.1 191.3,63.1 194.7,61.8 197,58.9 198,55.8 199.9,53.1 202.6,51.7 205.4,51.2 208.4,51.7 211.3,51.2 214.2,52.5 217,50.9 219.9,51.7 222.8,51.4 225.6,51.1 228.4,50.3 228.8,47.7 230,45.3 229.5,42.5 231.3,40.3 231.7,36.9 234.1,34.6 236.7,32.9 240,33.1 242.7,31.7 245.5,30.6 248.3,29.4 251.3,28.9 252.9,26.1 254.1,23.1 255.6,20.3 254.8,17.7 255.9,15 255.4,12.4 253.9,9.9 254.5,7.2 254.1,4.6"/>
<polyline points="191.3,63.1 191.7,66 191.3,69 192.7,71.7 193.6,74.8 196.1,77.2 197,80.3 198.7,82.8 202.2,82.3 204.1,84.6 203.6,88.2 202.7,91.7 201.6,94.5 202.7,97.6 201.3,100.3 199.2,103.2 197,106 196.6,109.4 193.7,111.5 192.7,114.6 192,117.4 192.5,120.3 192.7,123.1 190.4,125.5 190.3,129 188.4,131.7 185.3,132.7 182.7,134.6 179.8,135.1 177,136 174.1,140.3 177,143.1 179.8,144.3 182.8,144.9 185.6,146 188,148.2 191.3,148.9 192.4,151.6 195.1,152.7 197,154.6 194.8,156.2 194,159.2 191.3,160.3 194.1,163.1 196.8,164.6 199.7,165.4 202.7,166 203.7,168.8 205.9,170.4 208.4,171.7 210.7,173.2 212.4,175.3 214.1,177.4 216.7,179.7 220.5,180.2 222.7,183.1 224.5,185.3 226.8,187.2 228.7,189.4 230.5,191.6 231.3,194.6 231.3,197.6 233.6,200.1 234,203 234.1,206"/>
<polyline points="228.4,50.3 231.3,50.5 234,52.2 237,51.7 240,53.9 241.3,57.4 241.9,60.2 242.1,63.2 242.7,66 243.9,68.6 245.9,70.4 248.4,71.7 250.7,74.4 254.5,75 257,77.4 258.2,80.2 259.3,83 259.9,86 259.9,89.2 260.6,92.1 262.7,94.6 264,97.3 264.2,100.2 264.4,103.1 264.1,106 268.4,103.1 270.9,101.1 274.1,100.3 277,99.3 279.9,98.6 282.7,97.4 285.3,95.4 288.4,94.6 291.3,93.3 294.1,94.4 297,94.3 299.8,94.8 302.7,95.8 305.5,95.1 308.4,94.6 309.1,97.5 309.9,100.3 308.7,103.1 307.7,105.9 308.4,109.2 305.5,111.4 305.6,114.6 303.5,117.1 301.9,119.9 300.6,122.8 299.9,126 298.2,129 296.3,131.9 294.1,134.6 294.1,137.8 291.9,140.2 291.3,143.1 290.2,145.8 288.3,147.8 285.6,148.9"/>
<polyline points="35.6,61.7 39,61.4 42.4,61.8 45.6,63.1 47.4,65.8 49.5,68.3 49.9,71.7 52,74.2 52.4,77.2 53.4,80 53.6,83 54.1,86 56.3,88.4 55.3,92 57,94.7 58.4,97.4 60.2,100 60.9,102.9 61.3,106 63.1,108.7 64.5,111.6 65.6,114.6 65,117.9 62.7,120.3 66,122.5 69.9,123.1 71,126.8 74.1,128.9 73.3,131.8 72.3,134.6 71.3,137.4 70.3,140.9 68.4,143.7 65.6,146 64.5,149 63.3,152 61.3,154.6 59.1,156.4 59.2,159.6 58,162.1 54.5,163.1 54.1,166 51.9,168.1 50.5,170.9 47.6,172.4 45.6,174.6 44.7,178.1 41.7,180.2 39.9,183.1 35.6,186"/>
<polyline points="35.6,123.1 39.1,123.9 42.4,123.1 45.6,121.7 48.4,122.7 51.4,122 54.1,123.1 57.6,122.1 61.3,121.7 65.6,120.3"/>
<polyline points="65.6,148.9 68.1,147 71.5,147.4 74.2,145.8 77,144.6 79.6,146.4 82.9,146.3 85.8,147.2 88.4,148.9 91.2,148.2 93.8,147.1 96,145.4 98.3,143.8 100.7,142.4 102.7,140.3 105.4,141.6 108.6,141 111.2,142.4 114.1,143.1 116.8,141.3 119.3,139.2 122.2,137.7 125.6,137.4 128.2,135.5 131,134 134.4,133.6 137,131.7 140.5,130.8 142.7,127.8 145.6,126 148.9,125.6 151.8,124.3 154.1,121.7 157.4,121.7 159.7,119.2 162.5,117.8 165.6,117.4 168.1,115.4 171.3,114.6 173.8,115.9 175.6,117.9 177,120.3 178.7,122.4 180.1,124.8 182.7,126 182.5,129.1 184.1,131.7 182.7,134.6"/>
<polyline points="35.6,204.3 38.9,204.7 42.2,205.6 45.6,205.7 48,208.5 51.3,210 54.2,211.4 55.3,214.6 57,217.2 59.9,218.6 60.6,221.8 62.1,224.6 64.1,227.1 67.4,227 70.8,226.3 74.1,227.1 76.9,228.2 79.9,227.4 82.6,229 85.6,228.6 88.2,230.3 91.3,229.3 94.1,230 97,229.7 99.8,231.2 102.7,230.6 105.6,230 106.9,227.5 108.7,225.5 111.3,224.3 113.9,222.7 117.3,223.9 120,222.9 122.7,221.4 125.3,219.7 128.7,220.5 131.6,220 134.3,218.4 137,217.1 139.9,217 142.7,217.8 145.7,217 148.6,217 151.3,218.6 154.2,219.8 157,219 159.8,218.7 162.7,218.6 163.8,221.3 166.6,222.3 168.4,224.3 169.6,226.9 171.6,228.7 174.1,230 177.2,230.3 180,231.3 182.7,232.9 184.6,236.2 185.6,240 188.8,240.8 191.3,242.9 194.1,243.8 197,244.3 199.7,243 202.7,242.9"/>
<polyline points="35.6,285.7 39,286 42.4,285.7 45.6,287.1 48,289.5 51.3,290 53.5,291.6 55.2,293.7 57,295.7 59.8,296.9 62.4,298.6 65.6,298.6 68.5,298.9 71.1,300.6 74.1,300 77,300.7 79.8,301.5 82.7,302.2 85.6,302.9 89,303.2 91.3,305.6 94.1,307.1 97.4,308.4 100.6,309.9 102.7,312.9 105.1,315.6 108.4,317.1 111.4,316.6 114.2,317.8 116.9,318.8 119.9,318.6 122.8,318.7 125.6,318.1 128.5,318.6 131.3,318.6 134.1,319.2 136.9,320.3 139.9,320 142.7,324.3 145.6,328.6 146.7,325.6 149.5,323.9 151.3,321.4 152.7,319 154.7,317.2 157,315.7 160.3,314.1 162.7,311.4 165.6,311.9 168.4,312.6 171.3,312.9 172.7,315.3 174.3,317.5 177,318.6 178.6,321.4 179.9,324.3 182.8,323.6 185.6,322.4 188.4,321.4 191.3,320 194.1,318.6"/>
<polyline points="145.6,328.6 145.6,332 146.7,335.2 147,338.6 146.6,341.4 146.4,344.3 144.8,347 145.6,350 144.4,352.7 143.2,355.5 142.3,358.3 142.7,361.4 141.8,364.6 139.7,367.1 137.4,369.5 137,372.9 135.9,375.7 137.5,378.7 137.3,381.5 136.2,384.3 136.9,387.2 135.6,390"/>
<polyline points="48.4,390 48.1,387.1 48,384.1 49.9,381.5 50.6,378.6 51.2,375.8 49.7,372.7 51.5,370 51.3,367.1 51.2,364.2 49.4,361.6 50.8,358.4 50.6,355.5 48.2,353 48.4,350 51.3,347.8 52,344.1 54.1,341.4 56,338.5 59,336.5 59.9,332.9 62.4,331.6 63.1,328.4 65.6,327.1 67.2,329.9 68.4,332.9 71.2,334.3 74.1,335.7 75.5,338.4 76.8,341.2 77,344.3 75.4,346.5 72.8,347.7 71.3,350 73,352.7 72.1,355.8 72.7,358.6 76.3,358.4 79.9,358.6 82.3,356.4 85.4,356.3 88.4,355.7 91.3,355.7 94.2,355 96.9,353.5 99.9,354.3 102.2,356.9 105.2,357.8 108.4,358.6 111,360.5 114.4,359 117.2,360.1 119.9,361.4 122.4,363.7 122.7,367.1 119.4,368.4 117.3,371.5 114.1,372.9 111.5,374.5 108.4,374.5 105.3,374 102.7,375.7 101.3,378.4 102.2,381.5 101.9,384.5 99.4,386.9 99.9,390"/>
<polyline points="35.6,367.1 38,368 40.5,369.1 43.4,368.2 45.6,370 49,370.4 51.3,372.9"/>
<polyline points="51.3,378.6 52.8,381.3 55.3,383.2 57,385.7 60.2,385.6 62.4,388.7 65.6,388.6 68.2,390.8 70.8,393.1 74.1,394.3 77.5,394.7 79.9,397.1 82.5,395.9 82.9,392.5 85.6,391.4 88.4,389.9 89.8,387.1 91.7,384.7 94.1,382.9 97.1,380.9 99.9,378.6"/>
<polyline points="85.6,391.4 84.8,394.4 86.9,397.1 87.6,399.9 87,402.9 86.2,405.7 86.2,408.8 85.8,411.7 84.1,414.3 84.6,417.3 84.6,420.1 83.8,422.9 82.7,425.7 85.8,426.7 88.4,428.6 91.1,427.2 94.3,427.3 97,425.7 99.6,423.3 102.7,421.9 105.6,420 108.2,418.2 111.1,417.7 114.1,417.1 116.3,414.2 119.5,412.8 122.7,411.4 125.2,409.5 128.5,410.6 131.3,409.4 134.1,408.6 137.2,408.8 139.9,410.4 142.7,411.4 143.1,414.8 145.6,417.1"/>
<polyline points="134.1,378.6 136.5,381.8 137,385.7 139.5,387.9 142.7,388.6 143.3,391.4 143.6,394.3 144.1,397.1 142.8,399.8 143.4,402.9 142.7,405.7 142.7,408.5 142.7,411.4"/>
<polyline points="35.6,455.7 38.9,456.7 42.1,457.9 45.6,457.1 48.6,457.7 51,459.9 54.1,460 56.8,461.9 59.9,462.9 62.7,463.6 65.6,463.4 68.5,463.6 71.3,464.3 74.4,463.6 77.2,464.3 79.9,465.7 82.4,463.7 85.8,464.4 88.4,462.9 91.5,463.2 94.4,463.9 97,465.7 100,465 102.6,467.3 105.4,467.7 108.4,467.1 111.3,467.1 114,465.6 117,465.7 118.3,462.5 120.4,459.7 122.7,457.1 125.6,454.3"/>
<polyline points="59.9,462.9 60,465.8 60.8,468.6 60,471.4 59.9,474.3 59.5,477.4 56.8,479.6 57,482.9 54.9,485.3 55,488.5 54.1,491.4 53.8,494.5 51.1,496.8 51.3,500 51.1,503 50.2,505.8 50.4,508.9 48.4,511.4 46.7,513.5 44.6,515.2 42.7,517.1 39.1,518.5 35.6,520"/>
<polyline points="168.4,480 165.7,481.5 162.7,481.4 160.2,483.4 157,482.9 154.3,484.2 151.6,485.3 148.5,485.3 145.6,485.7 142.9,487.2 140,487.6 137,487.3 134.1,487.1 131.2,487.3 128.5,485.9 125.6,485.7 124.1,488.6 126.2,491.5 128.4,494.3 129.3,497.4 131.3,500 130.5,502.8 130,505.6 129.3,508.4 129.9,511.4 129.8,514.3 129.6,517.2 127.5,519.9 128.4,522.9 128.6,526 126.4,528.5 125.9,531.4 125.6,534.3 126.3,537.4 123.7,539.9 124.1,542.9 122.7,545.7"/>
<polyline points="35.6,544.3 38.8,545.8 42.2,545.6 45.6,545.7 48.5,545.8 51.4,545.6 54.1,544.3 56.8,542.9 59.8,543.4 62.7,542.9 65.6,541.9 68.7,541.8 71.3,540 74.4,539.8 77.3,538.9 79.9,537.1 82.7,537.8 85.4,539.1 88.4,538.6 91.1,540 94,540.9 97,541.4 100.2,542.2 103.3,543.2 105.6,545.7 108.7,545.8 111.4,547.3 114.1,548.6 116.4,545.6 119.9,544.3 122.5,546.1 125.5,546.3 128.4,547.1 131.2,548.4 134,549.3 137,550 139.7,551.9 142.7,552.8 145.6,554.3 148.8,556.4 149.9,560 149.3,562.9 149.7,565.8 150.5,568.6 150.6,571.4 150.5,574.3 152.2,577.1 151.3,580"/>
<polyline points="62.7,542.9 62.4,545.8 63.9,548.5 64.6,551.3 64.4,554.2 64.1,557.1 63.5,560 64.9,562.8 63.5,565.7 62.9,568.5 64.1,571.4 64.4,574.3 64.2,577.1 64.1,580"/>
<polyline points="191.3,580 192.7,577.3 193.8,574.5 194.1,571.4 197,571.7 199.8,571.8 202.7,571.4 206,571.9 208.4,574.3 210.9,575.6 212.7,577.6 214.1,580"/>
<polyline points="259.9,514.3 258.9,517.1 259.7,520.1 258.6,522.8 258.4,525.7 260.1,528.3 260.5,531.2 259.9,534.3 262.2,535.8 263.4,538.4 265.6,540 267.1,542.3 269.1,544.1 271.3,545.7 274.3,546.2 277,547.7 279.9,548.6 282.7,549 285.6,549.4 288.4,550 291.5,549.7 294.1,551.4 294.1,554.6 296.8,556.9 297,560 295.6,562.8 295.5,565.6 297.7,568.7 296.3,571.4 295.2,574.2 294.6,577.1 295.6,580"/>
<polyline points="282.7,505.7 284.7,507.5 286.9,509.1 288.4,511.4 290.8,512.8 291.4,516 294.1,517.1 296.6,518.5 297.8,521.1 299.9,522.9 303,522.9 305.5,524.8 308.4,525.7 310.7,528.2 314.6,527.7 317,530 319.5,532.2 322.7,532.9 325.6,534.3 328,536.6 331.3,537.1"/>
<polyline points="325.7,442.9 328.7,442.7 331.2,440.8 334.5,441.7 337.1,440 340,438.5 342.3,436 345.2,434.6 348.6,434.3 351.5,433.7 354.3,433 357.1,432.1 359.9,431.1 362.9,431.4 365.6,430.2 368.4,429.2 371.7,429.7 373.9,426.7 377.1,427.1 379.9,428.1 382.7,428.7 385.9,427.2 388.6,428.6"/>
<polyline points="325.7,442.9 325.8,446.2 327.5,448.8 328.2,451.8 330.8,454.1 331.4,457.1 333.4,459.2 335.1,461.5 335.5,464.8 338.1,466.4 340,468.6 342.5,470 344.7,471.9 347.2,473.2 349.8,474.5 351.4,477.1 354.3,478.5 355.1,482 358.2,483.2 360,485.7 361.3,488.7 364.8,489.5 366.9,491.7 368.6,494.3 370.7,496.5 373.4,498 375.2,500.5 377.1,502.9 377.5,506.3 379.1,509.1 380.7,511.8 382.9,514.3 383.5,517.3 383.7,520.4 385.7,522.9"/>
<polyline points="485.7,537.1 488.9,537.3 491.5,535.4 494.3,534.3 497.3,534.4 499.8,532.2 502.9,532.9 505.6,534.2 508.6,534.3 510.1,537.1 511.4,540 512.3,543.1 514.3,545.7 517.1,546.8 520,547.1 522.6,545.2 525.2,543.2 528.6,542.9 531.8,543 534,540 537.1,540 540,539.5 542.8,538.7 545.7,538.6 548.4,537.3 551.4,537.1 551.2,540.1 550.9,543 553.1,545.6 552.9,548.6 552.8,551.5 554.1,554.2 553.8,557.2 554.3,560 555.3,562.8 556.5,565.5 557.3,568.3 557.1,571.4 559.2,573.9 560,577.1"/>
<polyline points="502.9,532.9 501.4,536.1 501.9,539.6 501.4,542.9 502.5,545.7 501.1,548.7 501.2,551.6 502.9,554.3 502.3,557.2 502.4,560.2 501.5,563 500,565.7 500.3,568.8 498.9,571.5 498.9,574.5 497.1,577.1"/>
<polyline points="442.9,577.1 443.7,574 445.7,571.4 448.4,569.9 451.5,569.7 454.3,568.6 456.9,570.3 460,570 460.8,573.8 462.9,577.1"/>
<polyline points="318.6,528.6 321.1,530.3 323.5,532.2 325.7,534.3 327.5,537.2 329.8,539.9 331.4,542.9 333.6,545.5 336.1,547.9 337.1,551.4 338.6,554.1 337.9,557.5 340,560 341.9,562.6 341.9,565.7 342.9,568.6 344.8,571 346.5,573.5 349.8,574.5 351.4,577.1"/>
<polyline points="568.6,457.1 568.2,460.2 567.3,463 565.7,465.7 566,468.6 565.8,471.4 564.5,474.3 564.8,477.1 565.7,480 565.5,483.1 568.4,485.4 569.1,488.3 568.6,491.4 571.3,492.9 573.9,494.3 577.1,494.3"/>
<polyline points="597.1,571.4 598.8,569.1 600.7,567 601.2,563.8 603.8,562.1 605.7,560 608.9,560.1 611.7,558.9 614.3,557.1"/>
<polyline points="580,494.3 582.9,495.2 585.7,495.5 588.6,494.3 591.7,495.1 594.3,497.1 594.6,500.2 592.9,502.9 595.7,505.2 597.1,508.6 599,510.5 600.6,512.7 602.9,514.3 604,517 606.3,518.5 608.6,520 611.4,524.3 614.2,525.1 617,525.9 620,525.7 622.4,527 624.7,528.7 627.1,530 629.9,529.6 631.9,532.2 634.8,531.5 637.1,532.9 639.7,534.7 642.8,534.7 645.8,534.5 648.6,535.7 652,536.8 654.6,539 657.1,541.4 659.8,543.2 662.6,544.7 665.7,545.7 669,546.2 671.9,547.6 674.3,550 677.1,554.3 677.8,557.2 678.3,560.1 679.6,562.8 680,565.7 681,568.5 680.3,571.4 682.1,574.2 681.6,577.1 681.4,580"/>
<polyline points="627.1,530 626.7,533.3 625,536.5 625.7,540 624,542.7 622.9,545.7 620.3,546.9 619.1,549.5 617.1,551.4 614.7,553.9 611.8,555.7 608.6,557.1 605.1,558 602.6,560.5 600,562.9 599,566 597.1,568.6 599.7,570.9 600,574.3 601,577.4 602.9,580"/>
<polyline points="225.7,227.1 228.6,227.2 231.5,227.1 234.2,228.4 237,229.4 240,228.6 242.8,227.5 245.5,226.6 248.5,227.1 251.4,227.1 254.3,226.5 257.2,226.9 259.9,225.3 262.9,225.7 266.2,224.4 268.9,222.4 271.4,220 274.3,215.7 277.2,217.1 280.4,217.9 282.9,220 285.3,222.1 288.7,221.5 291.4,222.9 292.1,226.1 294.3,228.6 294.5,231.5 294.1,234.4 292.9,237.1 290.9,239.7 290.5,243.1 288.6,245.7 287.7,248.7 289.2,251.4 290.2,254.2 290.4,257.1 290,260 290.2,262.9 289.6,265.7 288.8,268.6 290.9,271.4 290,274.3 291.7,277 293.5,279.7 294.3,282.9 296.5,285.8 300.5,285.9 302.9,288.6 305.5,286.7 308.6,287.1"/>
<polyline points="308.6,287.1 309,284 311.2,282 313.8,280.1 314.3,277.1 316.9,275.9 318.5,273.7 320,271.4 323.1,270.2 325.1,267.9 326.1,264.7 328.6,262.9 330.1,260.2 333.7,259.4 335.4,256.9 337.1,254.3 338.2,251.5 341.3,250.8 342.9,248.6 343.3,245.7 344,242.8 344.6,239.9 345.7,237.1 343.5,234.6 341.7,232 340.9,228.8 340,225.7 340.4,222.8 342.6,220.3 341.2,216.9 342.9,214.3 345.8,212.1 346.1,208.1 348.6,205.7 349.2,202.7 351.3,200.2 351.4,197.1 353.6,194.6 354.3,191.4 353.8,188.2 352.4,185.1 353.2,181.8 352.9,178.6"/>
<polyline points="308.6,287.1 306.7,289.2 303.6,289.9 302.7,293.1 300,294.3 297.3,296.5 293.7,297.2 291.4,300 290.1,303 287.3,304.5 284.4,305.9 282.9,308.6 280.3,310.2 279.4,313.7 277.3,315.8 274.3,317.1 273.2,319.8 269.7,320.2 268.6,322.9 267.2,326.1 264.3,328.2 262.9,331.4 260.1,333.7 259.4,337.4 257.1,340"/>
<polyline points="271.4,320 273.8,322.5 274.2,326.4 277.1,328.6 278.3,331.6 280,334.3 281.5,332 284.2,330.9 285.7,328.6 288.4,327.2 291.2,326.1 294.3,325.7 294,322.4 296.8,320.2 297.1,317.1 299.8,316 301.2,313.5 302.9,311.4 306,311.8 308.3,308.8 311.3,308.6 314.3,308.6 317.1,307.8 320.3,308.3 323.1,307.6 325.7,305.7 328.6,306.1 331.6,306.5 334.3,307.7 337.1,308.6 340,309.5 342.5,311.5 345.7,311.4 347.3,308.7 350.6,307.7 352.6,305.5 354.3,302.9 357.6,301.7 360.4,299.6 362.9,297.1 365.2,295.2 366.8,292.5 368.9,290.4 371.4,288.6 374.1,286.8 377.1,285.7 380,288.6 380,291.6 382.5,294 382.9,297 382.9,300 383,303 384.9,305.5 386.1,308.3 385.7,311.4 387.8,313.9 387.5,317.2 388.6,320 390,322.7 389.3,326.1 391.4,328.6 394,330.5 396.7,331.7 400,331.4 403,331.5 406,331.8 408.8,332.6 411.4,334.3 414.3,335 417,336.2 420.1,336.3 422.9,337.1 425.9,337.2 428.7,338.3 431.4,339.6 434.3,340 436.5,338.4 438.6,336.7 440,334.3 441.6,331.7 441.9,328.7 441.2,325.5 442.9,322.9 442.2,319.6 439.5,317.4 438.7,314.2 437.1,311.4 435.9,308.7 435.8,305.5 434.3,302.9 431.7,300.5 430,297.5 428.6,294.3 426.1,291.8 424,289.1 422.9,285.7 423.1,282.6 421.6,279.9 420.3,277.3 420,274.3 419,271.5 419.8,268.3 417.8,265.7 417.1,262.9 417.1,259.9 419.3,257.3 419.7,254.4 420,251.4 423.4,251.1 425.7,248.6 426.2,245.3 428.6,242.9"/>
<polyline points="494.3,222.9 493.4,225.8 491.6,228.3 491.4,231.4 488.9,232.7 486.8,234.4 485.7,237.1 484.4,240.1 481.8,241.8 480,244.3 477.1,245.7 475.5,248.4 472,249.1 470.6,252 468.6,254.3 466.6,256.8 467,260.1 465.7,262.9 465.1,265.9 466.5,268.6 467.4,271.4 467.1,274.3 467.6,277.2 468.4,279.9 471.5,281.6 471.5,284.6 472.9,287.1 473.6,289.8 475.5,292.1 476.1,294.9 477.6,297.3 478.4,300 478.6,302.9 480.3,305.5 480.5,308.7 481.5,311.6 482.9,314.3 485,316.3 486.8,318.4 487.1,321.4 488.9,323.7 489.6,326.6 492.2,328.5 492.9,331.4"/>
<polyline points="600,220 600,222.9 599.8,225.9 598.6,228.6 598.3,231.6 599.4,234.3 600,237.1 600.4,240.3 599.6,243.1 598.1,245.8 597.1,248.6 597.9,251.5 598.7,254.4 600,257.1 602.9,258.5 604.9,260.8 606.1,263.9 608.6,265.7 611,267.2 613.5,268.7 615.7,270.5 617,273.5 620,274.3 623,274.9 625.6,276.6 628.7,277.2 631.4,278.6 634.4,280.6 637.1,282.9 636.2,285.7 635.8,288.6 637.1,291.4 636,294.4 634.3,297.1 634.1,300.2 631.8,302.6 631.4,305.7 630.1,309 628.7,312.1 625.7,314.3 623.1,315.5 622,318.2 620,320 616.9,320.2 614.3,322.2 611.4,322.9 609.1,325.3 608.6,328.6 608.7,331.5 608.6,334.3 610.8,336.8 611.4,340 614.4,342.2 615.1,345.8 617.1,348.6 616.7,351.4 616,354.3 617.1,357.1 617.2,360.3 614.9,362.7 614.3,365.7 612.6,367.8 610.5,369.5 608.6,371.4 607.4,374 605.2,375.6 602.9,377.1 600,378.5 597.1,380 596,382.9 598.1,385.7 597.1,388.6 597.5,391.4 597.1,394.4 597,397.3 598.6,400"/>
<polyline points="500,322.9 503,322.6 505.9,322.9 508.6,324.3 511.1,326.3 513.9,327.3 517.1,327.1 520,328.5 523.4,328.9 525.7,331.4 528.4,333 531.5,332.1 534.3,332.9 537.3,333.4 540.1,332.2 542.9,331.4 545.4,333.6 548.6,334.3 549,337.3 546.9,339.9 547.1,342.9 549.2,345.4 550,348.6 553.6,349.8 557.1,351.4 559.6,353.7 562.9,354.3 565.6,355.5 568.7,354.2 571.5,354.6 574.3,355.7 577.3,357.6 580,360 581.4,362.9 582.9,365.7 583.2,368.5 582.9,371.4 586.2,372 588.6,374.3 591.6,374.6 594.1,376.7 597.1,377.1"/>
<polyline points="234.3,347.1 234,350.2 236.9,352.6 236.2,355.8 237.1,358.6 238.8,361.2 242.2,362 242.9,365.6 245.7,367.1 248.6,368.5 249.8,371.6 252.1,373.6 254.3,375.7 254.7,378.6 256.2,381.3 256.6,384.2 257.1,387.1 257.3,390 258,392.8 257.8,395.8 258.6,398.6 260.9,401.4 262.9,404.3 264,407.1 265.9,409.6 265.7,412.9 264.9,415.7 264.8,418.6 264.3,421.4 267,423.8 268.6,427.1 269.4,430.3 271.4,432.9 269.3,435.4 268.6,438.6 267.2,441.5 265.7,444.3 263.2,446.4 260,447.1 258.6,450 257.1,452.9 256.6,456.2 254.3,458.6 257,460.9 258.2,464.2 260,467.1 262.7,468.3 263.9,470.9 265.7,472.9 268.6,473.9 271.8,473.6 274.3,475.7 277.1,477 280.4,476.6 282.9,478.6"/>
<polyline points="268.6,352.9 269.5,356 271.4,358.6 272.8,361 275.2,362.4 277.1,364.3 279.6,362.2 282.8,362.4 285.7,361.4 288.5,360.2 291.8,360.6 294.3,358.6 296.6,355.9 300.5,355.6 302.9,352.9 306.1,353.2 308.8,351.5 311.4,350 312.1,353.2 314.3,355.7 314.6,358.7 312.1,361.2 312.9,364.3 311.5,367.2 309,369.5 308.6,372.9 311,375.3 314.3,375.7 317.4,375.8 319.8,378.3 322.9,378.6 325.8,379.7 328.6,378.6 330.8,375.8 334.1,374.5 337.1,372.9 340.3,371.5 342.3,368.3 345.7,367.1 348.6,368.1 351.4,366.5 354.2,367.9 357.1,367.1 360.2,366.9 362.8,368.6 365.5,370.3 368.6,370 371.6,370 374.5,370.9 377.1,372.2 380,372.9 382.9,372.4 385.7,371.7 388.6,372.1 391.4,372 394.3,372.9"/>
<polyline points="437.1,342.9 439.5,345.3 442.9,345.7 443.9,348.8 445.7,351.4 449.1,350.4 451,346.9 454.3,345.7 457.5,345 460,342.9 463.3,343.4 465.7,345.7 467.1,348.6 468.6,351.4 471.5,350.8 474.2,349.2 477.1,348.6 480.3,348.6 482.9,346.8 485.7,345.7 488.6,344.5 491.4,342.9 493.7,340.4 494.3,337.1"/>
<polyline points="437.1,298.6 438.5,301.7 436.6,305.1 437.9,308.2 438.6,311.4 438.5,314.3 437.1,317 438.1,320.1 437.1,322.9 435.8,325.8 436.9,328.6 437.5,331.4 437.1,334.3 437.4,337.4 439.2,340 440,342.9 442.2,345.4 442.9,348.6"/>
<polyline points="442.9,348.6 440.5,350 439.9,353.2 437.1,354.3 434.6,355.6 433.8,358.6 431.4,360 430.1,362.8 428.3,365.3 428.6,368.6 426.5,370.3 424.5,372.1 422.9,374.3 420.1,375.5 417.5,377 414.6,377.6 411.4,377.1 409,379.4 405.7,380 404.5,382.8 404,385.8 402.9,388.6 401.9,391.4 400,393.9 400,397.1 397.6,399.4 394.3,400 393,403.3 390.2,405.5 388.6,408.6 390.5,411.2 391.3,414 391.1,417.1 391.4,420 392.4,422.9 391.8,425.7 391.4,428.6 393,431.2 393.1,434.3 394.3,437.1 396,439.2 398.6,440.4 400,442.9 402.7,445.1 405.8,446.6 408.6,448.6 411.3,450.9 411.5,454.9 414.3,457.1 415.9,459.8 417,462.6 417.1,465.7 418.8,468.3 418.2,471.5 418.3,474.5 420,477.1 420.3,480.2 422.2,482.8 422.9,485.7 424.1,488.4 425.3,491.2 424.2,494.4 425,497.2 425.7,500"/>
<polyline points="537.1,345.7 534.4,347 531.3,347.3 528.6,348.6 525.8,350.1 522.9,351.4 519.8,353.6 518.6,357.1 517.3,359.8 517.8,363 515.4,365.5 515.7,368.6 517.3,371.2 516.6,374.3 517.1,377.1 520.8,378.3 524.3,380 525.7,382.7 525.7,385.7 525.3,389.1 522.9,391.4 520.8,393.9 520,397.1 520.2,400.4 517.9,402.8 517.1,405.7 514.3,408.6 511.2,408.2 508.6,410 505.7,414.3 508.6,417.1 511.7,416.9 514.5,417.8 517.1,419.5 520,420 522.8,420.7 525.6,421.8 528.3,423 531.4,422.9 534,421.1 537,420.5 540,420 542.9,419.5 545.7,418.8 548.6,420 549.8,422.6 551.9,424.3 554.3,425.7 555.8,428 559,428.6 560,431.4 559.9,434.5 560.8,437.3 562.3,440 562.9,442.9 562.7,445.8 564,448.5 564.3,451.4"/>
<polyline points="597.1,374.3 598.7,376.9 600,379.7 600,382.9 600.7,385.7 601.2,388.6 600,391.4 603,392.5 605.7,394.3 608.8,393.4 611.4,391.4"/>
<polyline points="600,217.1 602.6,217.7 605.2,218.3 607.8,218.1 610.4,217 613,217.9 615.6,217.8 618.2,218.8 620.8,218.3 623.4,217.7 626,218.8 628.6,218.6 631.6,219.3 634.1,216.9 637.1,217.1 640.1,217.7 642.7,215.1 645.6,215.4 648.6,215.7 651.2,213.9 654.6,214 657.6,213.4 660.3,211.7 662.9,210 665.6,208.8 668.8,209.5 671.3,207.4 674.3,207.1 677,205.5 680.4,206.2 682.9,204.3 685.8,204.3 688.7,204.1 691.5,203.7 694.3,202.9 697.1,207.1 696.4,210.2 698.2,212.8 698.6,215.7 698.2,218.7 699,221.5 700,224.3 699.5,227.3 701.1,230 701.4,232.9 700.4,235.6 700.3,238.5 700,241.4 699.5,244.4 698.8,247.4 697.1,250 697.8,253 700.1,255.4 700,258.6 701.1,261.3 704.5,261.7 705.7,264.3 709.1,264.6 711.4,267.1 713.8,264.8 717.1,264.3 720.5,263.8 722.9,261.4"/>
<polyline points="760,207.1 762.9,204.3 765.6,202.5 768.6,201.4 771.6,200.9 774.5,200.9 777.3,201.3 780,202.9 782.9,203 785.7,202.5 788.6,202.3 791.4,201.4 794.4,201.3 796.9,198.9 800.1,199.5 802.9,198.6 805.7,197.5 808.6,197.1 811.9,195.7 814.3,192.9 816,190.3 817.1,187.5 817.1,184.3 817,181.1 819.9,178.9 820,175.7 822.4,173.3 822.9,170 825.6,168.9 826,165.5 828.6,164.3 830,161.9 831.7,159.8 834.3,158.6 836.4,155.5 840,154.3"/>
<polyline points="760,207.1 758.2,209.7 757.3,212.6 757.1,215.7 758.2,218.7 760,221.4 762.5,223.6 765.7,224.3 768.4,226 771.4,227.1 774,229.7 775.7,232.9 778.7,235.1 780,238.6 783.3,239.1 785.7,241.4"/>
<polyline points="297.1,4.6 295.1,7.9 294.3,11.7 294.3,14.7 292.9,17.4 295.4,20 297.1,23.1 298.7,25.9 300,28.9 302.6,31.2 302.9,34.6 306,35.4 308.6,37.4 311.6,37.6 314.3,38.9 317.1,34.6 319,32 320,28.9 321.7,26.7 323.5,24.7 325.7,23.1 328.8,21 330,17.4 330.7,14.6 331.4,11.7 332.3,8.1 331.4,4.6"/>
<polyline points="331.4,11.7 334.4,10.6 337.1,8.9 340.5,9.2 342.9,11.7 345.7,11.5 348.6,11.5 351.4,11.7 353.9,13.8 357.1,14.6 358.4,17.3 358.5,20.4 360,23.1 362.8,24.6 365.7,26 368.7,25.7 371.3,27.9 374.3,27.4 377.6,27.9 380,30.3 383,30.4 385.7,28.9 388.3,27.1 391,25.7 394.3,26 397,24.8 400.1,25.7 402.9,24.6 405.8,25.8 408.6,24.6"/>
<polyline points="408.6,24.6 408,20.8 410,17.4 410.7,14.5 411.4,11.7 411.4,8.1 411.4,4.6"/>
<polyline points="408.6,24.6 409.3,28.4 411.4,31.7 413.1,34.3 413.3,37.4 414.3,40.3 416.5,42.9 417.4,46.5 420,48.9 422.4,50.9 422.9,54.4 425.7,56 428.9,57.7 431.4,60.3 434.4,60.3 437.1,61.7 440,60.3"/>
<polyline points="277,335.7 275.9,338.5 275.8,341.4 276.3,344.5 274.3,347.1 274.1,350 276.8,351.1 277.4,354.3 279.9,355.7 281.4,358 283.2,360 285.6,361.4"/>
<polyline points="470,85.7 470,88.6 471.1,91.4 471.3,94.2 471.4,97.1 473.1,99.9 473.3,103.3 476.6,105.2 477.1,108.6 477.7,111.5 481,112.7 481.4,115.7 480.7,119.6 478.6,122.9 477.2,126.1 473.9,128 472.9,131.4 471,134.3 469.3,137.3 467.1,140 465.6,142.7 466.9,145.8 465.7,148.6 465.3,151.4 464.7,154.3 464.3,157.1 463.2,159.9 462.7,162.7 462.9,165.7 463.5,168.7 465.1,171.3 465.7,174.3 468.7,175.3 471.4,177.1 474.7,177.8 477.1,180 479.7,181.8 482.7,182.3 485.7,182.9 488.4,184.4 491.7,183.9 494.3,185.7 497.2,187 500,188.6 502.6,190.2 505.7,190.7 508.6,191.4 511.4,190.4 514.3,191.3 517.1,191.4 520.2,191.7 522.7,189.3 525.5,188.5 528.6,188.6 531.2,186.7 534.3,185.7"/>
<polyline points="511.4,194.3 511.6,197.3 512,200.2 514.4,202.6 514.3,205.7 515.2,208.6 515,211.4 514.3,214.3 515.7,217 516.1,220.1 517.1,222.9 517,226 515.7,228.7 514.3,231.4 515.1,234.3 513.1,237.1 514.3,240"/>
<polyline points="408.6,188.6 411.6,188.2 413.9,185.7 417.1,185.7 419.7,187.6 423.1,186.1 425.8,187.6 428.6,188.6 431,190.7 434,191.2 437.1,191.4 439.8,192.7 442.9,192.7 445.9,192.8 448.6,194.3 451.3,196 454.3,197.1 456.6,199.6 457.1,202.9 456.9,206 455.5,208.7 454.3,211.4 453.3,214.2 450.7,215.4 448.6,217.1 446.2,218.5 444.4,220.6 442.9,222.9"/>
<polyline points="350.5,181 351,178.2 351.8,175.4 351.8,172.5 351.4,169.6 352.8,166.9 355.6,166 358.2,164.3 361,163.4 363.7,162.5 366.3,161.3 368,158.8 370.4,157.5 372.9,156.5 375.4,155.7 377.5,154 378.5,151.6 379.2,149 381.5,147.2 382.2,144.6 383.9,141.7 384.4,138.5 384.5,135.2 387.8,136.9 391.5,137.6 394.7,138.1 397.8,137.3 400.9,136.4 402.4,133 403.3,129.3 404.3,126.4 405.6,123.5 406.3,120.4 408,117.6 407.1,114.8 404.7,112.7 404.3,109.7 403.3,107 402.1,102.3"/>
</g>
<polygon points="181.5,359.8 182.4,357.4 182.8,354.9 183.2,352.5 183.2,349.9 184,347.5 184.5,345 185.1,342.5 186,340.1 186.4,337.6 188,335.1 189.9,332.9 191.4,330.3 192.8,328 192.6,325.2 193.8,322.9 194,319.2 193.8,315.5 193.4,312.9 192.1,310.6 191.4,308.1 190.6,305.6 190.4,303 188.9,300.7 186.5,298.6 185.2,295.8 184,293.3 182.7,290.9 181.6,287.9 181.5,284.7 181.1,282.1 180.5,279.6 179.1,277.4 180.3,274.9 181.5,272.5 182.7,270 183.4,266.7 185.2,263.8 187.1,262 188.9,260.1 190.2,257.7 191.4,255.2 193.4,252.9 195,250.3 196.9,247.9 198.7,245.4 201.3,244.3 203.7,242.9 206.3,242.4 208.6,241.1 211,240 213.5,239.2 216.3,238.1 218.2,235.6 220.9,234.3 222.7,232 224,229.3 225.8,226.9 227.4,224.6 227.8,221.7 229.5,219.5 231.1,217.3 231.2,214.5 231.7,211.9 233.2,209.7 234.1,207.1 235.5,204.7 236.3,202 238.1,199.8 239.9,197.5 241.8,195.2 244,193.2 245.7,190.7 247,188.4 248.6,186.4 248.7,183.5 249.2,180.7 250,177.9 252.4,176 254.3,173.6 257.3,173.7 260,172.6 262.9,172.1 265.7,171.4 268.7,171.8 271.4,170.9 274.3,170.7 276.2,168.7 278.6,167.3 275.7,163.6 275.7,159.3 280,157.9 281.4,153.6 282.4,151.2 284.3,149.3 288.6,150.7 291.4,153.6 293.3,155.3 295.7,156.4 297.8,154.9 299.4,153 301.1,151 302.9,149.3 305.1,147.6 306.9,145.4 309.7,144.4 311.4,142.1 313.2,140.1 315.3,138.4 317.1,136.4 318.9,134.5 320.4,132.4 321.4,130 322.9,127.9 324.8,125.5 327.1,123.6 328.6,121.5 329.5,119.1 331.4,117.3 334.3,117.3 337.1,116.4 340,116.3 342.8,117.2 345.7,116.5 348.6,116.8 351.5,116.8 354.3,117.3 357.1,117 360,116.6 362.8,116.2 365.7,117 368.5,116.2 371.4,116.4 374.2,115.9 377.1,115.9 380,116.1 382.8,115.9 385.7,115.9 388.6,115.8 391.5,115.5 394.3,115 396.3,112 398.6,109.3 400.6,106.7 401.9,103.8 402.9,100.7 403.3,98.1 405.2,96.1 405.7,93.6 408.2,92.7 410.2,91.3 411.9,89.2 414.5,88.6 416.5,87.1 418.2,85 420.4,83.7 422.9,82.9 424.4,80.5 425,77.7 425.4,74.9 426.2,72.2 427.2,69.6 428.6,67.1 432.1,66.7 435.7,67.1 438.3,69.6 441.4,71.4 443.9,72.2 446.4,72.9 448.6,74.3 449.6,76.8 451.1,78.8 453.3,80.5 454.3,82.9 457.1,83.4 460,83.1 462.9,83.3 465.7,82.9 468.5,83.4 471.4,84 474.2,84.1 477.1,84.5 480,84.3 482.9,84.4 485.7,85.7 488.6,86 491.4,86.9 494.3,87.1 497.2,88 499.9,89.5 502.9,90 505.1,87.9 507.1,85.7 509.4,84.5 511.8,83.5 514.3,82.9 517.3,83.1 520,84.3 522.8,83.6 525.7,82.9 528.7,83 531.4,84.3 534.3,85 537.1,85.7 540.1,85.9 542.9,87.1 541.5,89.3 540,91.4 542.2,94.2 544.3,97.1 545.7,100 546.7,103.1 548.6,105.7 550.6,108.2 551.4,111.4 552.4,114.5 554.3,117.1 557.2,119.2 560,121.4 562.9,122 565.7,122.6 568.6,122.9 570.8,124.3 573.4,124.6 575.7,125.7 573.6,127.9 571.4,130 569.5,131.8 568.6,134.3 569.9,137.7 570,141.4 568,139.8 565.7,138.6 562.9,135.7 560,135.2 557.1,135.7 554.3,134.5 551.4,134.3 548.4,136.2 545.7,138.6 544.2,140.7 544.1,143.4 542.9,145.7 540.8,148.2 540,151.4 539.5,154.3 539.1,157.1 538.6,160 537.6,162.8 538.2,165.8 537.1,168.6 537.3,171.5 537.9,174.3 538.6,177.1 538.1,180.1 537.1,182.9 535.7,185.7 537.6,187.6 540,188.6 542.3,189.8 544.3,191.4 546.5,192.8 548.6,194.3 551.4,196.5 554.3,198.6 556.2,201 558.6,202.9 562.9,204.3 565.8,204.6 568.6,205.7 571.5,206 574.3,206.3 577.1,206.8 580,207.1 582.9,207.6 585.7,206.8 588.5,207.6 591.4,207.1 594.3,207.5 597.1,208.1 600,208.6 602.8,207.5 605.7,207.1 608.6,206.8 611.5,207.1 614.3,206.3 617.1,205.7 619.5,204.6 621.3,202.7 623.4,201.2 625.7,200 626.9,197 628.7,194.3 630,191.4 629.7,188.5 629.5,185.7 628.6,182.9 629.4,179.7 631.4,177.1 633.5,175.4 635.6,173.7 637.1,171.4 639.4,170.3 641.4,168.6 643.9,167.7 646,166.2 648.6,165.7 649.6,162.7 651.4,160 653.9,159.1 655.8,157.3 658,155.9 660,154.3 661.8,151.6 663.4,148.8 664.3,145.7 663.8,142.1 662.9,138.6 665.8,138 668.6,137.1 671.5,136.3 674.4,135.5 677.1,134.3 680.1,132.3 682.9,130 685.8,129.5 688.6,128.6 691.3,127.3 694.3,126.9 697.1,125.7 700,124.2 702.9,122.9 705.4,122.3 707.4,120.5 710,120 712.7,118.9 715.7,118.6 719.3,118 722.9,118.6 725.7,119.7 728.6,120 731.1,122.6 734.3,124.3 736,126.4 738.2,128 740,130 742.6,131.9 745.7,132.9 750,132.9 751.1,135.2 752.9,137.1 753.5,140 754.3,142.9 757.3,144 760,145.7 762.9,146.1 765.7,147.1 768.5,146.3 771.4,145.7 772.9,141.4 777.1,142.9 778.8,144.9 780,147.1 781.5,149.2 782.9,151.4 784.1,154.3 785.7,157.1 788.3,159.1 791.4,160 794.4,160.1 797.1,161.4 800,158.6 802.8,159.4 805.7,160 808.5,159 811.3,158.8 814.3,159.4 817.1,158.6 820,158.7 822.9,159.2 825.7,158.5 828.6,158.6 831.1,156.5 834.3,155.7 835.6,152.8 837.1,150 839.3,148.7 841.4,147.1 845.7,145.7 847.5,147.7 850,148.6 851.4,152.9 853.2,154.9 855.7,155.7 857.9,157.1 860,158.6 862.9,159.9 865.7,161.4 868.7,161.4 871.4,162.6 874.3,162.9 877.1,162 879.9,161.4 882.9,161.4 885.9,161.5 888.6,162.9 891.6,162.9 894.3,164.3 897.2,163.8 900,162.9 904.3,164.3 901.4,167.1 898.7,168.4 895.7,168.6 893,171.1 891.4,174.3 891.5,177.3 890,180 890,182.9 891.2,186.3 891.4,190 890.6,192.5 888.6,194.3 886.9,197 885.7,200 887.5,202.7 888.6,205.7 891.4,208.6 892.9,212.9 890.5,214.8 888.6,217.1 887.5,220.2 885.7,222.9 884.2,225.2 881.6,226.4 880,228.6 877,229.2 874.1,230 871.4,231.4 868.5,231.8 865.7,232.9 862.7,232.7 860,231.4 858.2,229.4 856.4,227.4 854.3,225.7 853.5,222.9 852.9,220 852.7,217 851.4,214.3 853.3,211.9 855.7,210 857.1,207.1 854.1,207.2 851.4,208.6 849.3,210.3 848.1,212.9 845.7,214.3 844.9,217.4 842.9,220 840,222.9 837.2,221.3 834.3,220 831.2,221.1 828.6,222.9 826,224.8 822.9,225.7 820.1,227.4 817.1,228.6 815,230.3 813.6,232.7 811.4,234.3 808.6,235.7 805.5,236.7 802.9,238.6 800,237.9 797.1,237.1 794.5,239.1 791.4,240 790.2,242.3 788.6,244.3 785.7,244.9 782.9,245.7 780.1,247.9 777.1,250 774.2,250.8 771.6,252.6 768.4,252.8 765.7,254.3 762.9,255.9 759.9,257 757.1,258.6 754.2,259.9 751.5,261.6 748.6,262.9 745.8,263.8 742.9,264.3 740.1,263.2 737.1,262.9 734.5,260.9 731.4,260 728.4,261.1 725.7,262.9 724.2,264.9 722.9,267.1 725.9,268.3 728.6,270 731.7,270.9 734.3,272.9 736,275.5 738.6,277.1 739,280.1 740,282.9 741.4,287.1 739,288.2 737.1,290 734.4,291.7 731.4,292.9 728.6,290 727.1,285.7 722.9,284.3 718.6,284.3 716.3,286.3 714.3,288.6 712.3,290.4 711.4,292.9 710,295.1 709.4,297.6 708.6,300 709.6,303.5 710,307.1 711.5,310 712.9,312.9 713.1,316.6 714.3,320 714.3,324.3 711.5,325.2 708.6,325.7 705.6,326.9 702.9,328.6 700,329.2 697.1,330 694.1,330.2 691.4,331.4 688.4,332.5 685.7,334.3 682.9,335.3 680,335.7 677.1,336.4 674.3,335.7 671.4,332.9 671.8,329.9 672.9,327.1 674.2,324.2 675.7,321.4 676.5,318.6 677.1,315.7 674.3,312.9 671.9,313.9 670,315.7 665.7,315.7 662.6,316.7 660,318.6 658.4,321.8 655.7,324.3 655.9,327.3 657.1,330 659.8,331.8 662.9,332.9 664.7,334.7 667.1,335.7 667.8,338.6 668.6,341.4 667.1,345.7 666,348 664.3,350 661.9,351 660,352.9 657.1,355.7 654.3,358.6 651.4,361.4 649.6,364.1 648.6,367.1 646.9,369.9 645.7,372.9 642.9,375.7 639.7,376.6 637.1,378.6 637.8,381.4 638.7,384.2 638.6,387.1 635,387.8 631.4,388.6 628.7,387.4 625.7,387.1 623.1,389.6 620,391.4 617.1,391 614.3,391.4 612,392.9 610.8,395.5 608.6,397.1 607.5,399.9 606.4,402.8 605.7,405.7 604.3,408.6 602.9,411.4 602.8,414.3 602.2,417.2 601.4,420 599,422.6 597.1,425.7 594.1,426.8 591.4,428.6 590.1,431.5 588.6,434.3 588.2,437.4 586.3,439.9 585.7,442.9 584.9,445.7 585.1,448.6 584.3,451.4 582.1,452.8 580,454.3 577.4,452.4 574.3,451.4 571.3,451.6 568.6,452.9 565.7,453.6 562.9,454.3 560,455.7 557.1,457.1 554.2,457.7 551.4,458.6 548.6,459.5 545.8,460 542.9,460 539.4,461.1 535.7,461.4 532.9,462.9 531.9,465.7 531.4,468.6 530.2,471.5 528.6,474.3 527.1,477.1 525.7,480 524.4,482.9 522.9,485.7 522.1,488.5 521.4,491.4 519.5,493.3 517.1,494.3 520,497.1 521.4,501.4 519.6,503.4 517.1,504.3 514.4,502.9 511.4,502.9 508.5,503.1 505.7,502.9 502.7,502.7 500,501.4 497.1,502 494.3,502.9 491.9,504.7 490,507.1 488.6,511.4 488.6,514.3 487.5,517.1 487.1,520 486.6,523.6 485.7,527.1 482.8,527.8 480,528.6 477.6,531.3 474.3,532.9 471.7,534.9 468.6,535.7 466.2,537.1 464.4,539.1 462.9,541.4 462.1,538.6 461.4,535.7 460.8,532.1 460,528.6 459,525.1 458.6,521.4 456.7,519 454.3,517.1 453.5,514.3 452.9,511.4 454.3,507.1 451.4,505.7 448.5,505.1 445.7,505.7 442.9,504.6 440,504.3 437,504.6 434.3,505.7 431.2,506.6 428.6,508.6 424.3,508.6 423.9,512.2 422.9,515.7 423.5,519.3 422.9,522.9 420,522.8 417.1,522.3 414.3,521.4 411.6,522.9 408.8,523.9 405.7,524.3 402.8,526.4 400,528.6 397.1,528.1 394.3,528.6 391.4,526.5 388.6,524.3 387.2,521.5 385.2,519.1 382.9,517.1 380,517.1 378.5,519.5 376.1,520.9 374.3,522.9 373,525.1 371.9,527.4 369.5,528.9 368.6,531.4 365.9,533.2 362.9,534.3 361.5,532.1 360,530 359.5,526.4 358.6,522.9 358.5,519.8 357.1,517.1 355.9,514.1 354.3,511.4 352.7,509.3 351.4,507.1 349.9,505 348.6,502.9 347.2,500.7 347.3,497.9 345.7,495.7 344.9,493.2 342.9,491.4 341.1,488.7 340,485.7 338,483.1 337.1,480 335.4,478 334.3,475.7 331.4,475.2 328.6,474.3 325.8,473.3 323,472.8 320,472.9 317.2,471.9 314.2,472.5 311.4,471.4 308.5,471.5 305.7,472.1 302.9,472.9 300,473.2 297.1,473.2 294.3,474.3 291.6,475.8 288.7,476.6 285.7,477.1 284,479.8 282.9,482.9 281.8,485.6 281.7,488.5 281.4,491.4 281.2,494.3 280.3,497.1 280,500 278.7,502.2 278.6,504.9 277.1,507.1 274.4,508.8 271.4,510 268.7,511.8 265.7,512.9 262.9,513.4 260,512.9 257.1,512.2 254.3,511.4 251.4,511.4 248.5,510.8 245.7,510 243,511.2 240,511.4 237.1,511.7 234.4,513.1 231.4,512.9 228.6,512.6 225.7,513.3 222.9,512.9 219.9,513 217.3,511.3 214.3,511.4 211.5,512.5 208.6,512.9 205.9,511.6 202.9,511.4 200.1,510.4 197.3,509.9 194.3,510 191.1,508.3 188.6,505.7 187.1,502.9 185.7,500 185.1,497.1 186.3,494.3 185.7,491.4 185.5,488.4 184.3,485.7 182.3,482.7 180,480 177.1,478.6 174.3,477.1 171.4,476.6 168.6,475.7 167.5,473.3 165.7,471.4 165,468.6 164.3,465.7 163,463.4 161.4,461.4 158.3,460.4 155.7,458.6 152.1,458.2 148.6,457.1 145.8,457.7 142.9,457.1 140,456.8 137.1,457.1 134.2,457 131.4,457.1 129,456.1 127.1,454.3 125.7,450 127.1,445.7 128.6,441.4 129.8,438.7 130,435.7 132,434 134.3,432.9 135.6,430.7 137.1,428.6 138.1,425.5 140,422.9 141.2,419.9 142.9,417.1 144.7,414.5 145.7,411.4 148,410.3 150.3,409.1 152.9,408.6 155,407.1 157.1,405.7 159.9,404.8 162.9,404.3 166,403.4 168.6,401.4 171.2,399.5 174.3,398.6 177.5,397.7 180,395.7 181.4,391.4 182.3,388.7 184.7,387 185.7,384.3 187.8,382 189.2,379.2 191.4,377.1 193.3,375.2 195,373.1 197.1,371.4 199.9,370.1 202.7,369.1 205.7,368.6 208.6,368.4 211.4,368.6 213.9,367.7 215.7,365.7 218.4,363.3 220,360 223.1,359.1 225.7,357.1 228.4,355.9 231.4,355.7 232.6,353.4 234.3,351.4 236.2,348.8 237.1,345.7 239.7,343.7 242.9,342.9 244.7,341 245.8,338.6 248.2,337.1 248.7,334.2 251.2,332.8 252.2,330.4 253.6,328.2 255.6,326.4 253.6,328.2 250.7,328.3 248.6,329.9 246.5,331.5 244,332.4 241.3,333 239.4,335 236.9,335.7 234.8,337.5 232.4,338.6 229.7,339 227.4,340.3 225.4,342.1 222.9,342.9 220.2,344.4 217.3,345.3 214.3,345.7 211.4,347 208.6,348.6 205.7,350 203,351.7 200.2,353.2 197.1,354.3 194.2,355.6 191.3,356.9 188.6,358.6 185.5,359.6 182.8,361.4 180,362.9 181.5,359.8" fill="none" stroke="#000" stroke-width="1.8" stroke-linejoin="round"/>
<circle cx="701.4" cy="90.0" r="1.2" fill="#000"/>
<circle cx="722.9" cy="90.0" r="1.2" fill="#000"/>
<circle cx="724.3" cy="94.3" r="1.2" fill="#000"/>
<circle cx="731.4" cy="93.7" r="1.2" fill="#000"/>
<circle cx="682.9" cy="124.3" r="1.2" fill="#000"/>
<circle cx="715.7" cy="312.9" r="1.2" fill="#000"/>
<circle cx="720.0" cy="314.3" r="1.2" fill="#000"/>
<circle cx="724.3" cy="312.9" r="1.2" fill="#000"/>
<circle cx="737.1" cy="318.6" r="1.2" fill="#000"/>
<circle cx="781.4" cy="307.1" r="1.2" fill="#000"/>
<circle cx="692.9" cy="347.1" r="1.2" fill="#000"/>
<circle cx="731.4" cy="354.3" r="1.2" fill="#000"/>
<circle cx="661.4" cy="371.4" r="1.2" fill="#000"/>
<circle cx="718.6" cy="312.9" r="1.2" fill="#000"/>
<circle cx="721.4" cy="313.4" r="1.2" fill="#000"/>
<circle cx="724.3" cy="314.3" r="1.2" fill="#000"/>
<circle cx="737.1" cy="320.0" r="1.2" fill="#000"/>
<circle cx="780.0" cy="307.1" r="1.2" fill="#000"/>
<circle cx="864.3" cy="244.3" r="1.2" fill="#000"/>
<circle cx="802.9" cy="238.6" r="1.2" fill="#000"/>
<circle cx="748.6" cy="275.7" r="1.2" fill="#000"/>
<circle cx="701.8" cy="80.9" r="1.2" fill="#000"/>
<circle cx="702.5" cy="90.5" r="1.2" fill="#000"/>
<circle cx="720.5" cy="55.1" r="1.2" fill="#000"/>
<circle cx="727.1" cy="53.0" r="1.2" fill="#000"/>
<circle cx="722.5" cy="88.5" r="1.2" fill="#000"/>
<circle cx="724.6" cy="94.6" r="1.2" fill="#000"/>
<circle cx="730.6" cy="93.5" r="1.2" fill="#000"/>
<polygon points="710.4,73.3 711.9,72.8 715.4,77.3 712.4,78.4 710.9,77.3" fill="none" stroke="#000" stroke-width="1.3"/>
<polygon points="716.5,61.1 718.5,58.6 721,59.1 720,61.1 717.5,63.2" fill="none" stroke="#000" stroke-width="1.3"/>
<polygon points="698.2,100.6 701.3,99.6 702.3,102.7 700.8,104.7 698.7,103.2" fill="none" stroke="#000" stroke-width="1.3"/>
<polygon points="704.3,99.6 709.4,98.6 711.4,100.6 710.4,102.7 706.3,101.6" fill="none" stroke="#000" stroke-width="1.3"/>
<polygon points="709.9,104.7 712.4,104.7 714.4,108.7 712.9,110.8 710.4,107.7" fill="none" stroke="#000" stroke-width="1.3"/>
<rect x="37.5" y="6.5" width="935.5" height="570" fill="none" stroke="#222" stroke-width="1.3"/>
<rect x="899.5" y="274" width="31.5" height="46" fill="#ff00ff"/>
<rect x="899.5" y="320" width="31.5" height="46" fill="#0000ff"/>
<rect x="899.5" y="366" width="31.5" height="46" fill="#5ab0ff"/>
<rect x="899.5" y="412" width="31.5" height="46" fill="#3caa3c"/>
<rect x="899.5" y="458" width="31.5" height="46" fill="#96f58f"/>
<rect x="899.5" y="504" width="31.5" height="47" fill="#f8f8f8"/>
<rect x="899.5" y="274" width="31.5" height="277" fill="none" stroke="#333" stroke-width="1.2"/>
<text transform="translate(94.99,676.88) scale(1.0071,1.0071)" font-family='"Liberation Sans","Noto Sans CJK SC",sans-serif' font-size="31" letter-spacing="0" fill="#000">图</text>
<text transform="translate(133.34,676.00) scale(1.0318,1.0318)" font-family='"Liberation Sans",sans-serif' font-size="31.5" letter-spacing="0" fill="#000">1</text>
<text transform="translate(160.67,676.00) scale(1.0318,1.0318)" font-family='"Liberation Sans",sans-serif' font-size="31.5" letter-spacing="0" fill="#000">2022</text>
<text transform="translate(238.03,676.98) scale(0.9724,0.9724)" font-family='"Liberation Sans","Noto Sans CJK SC",sans-serif' font-size="31" letter-spacing="0" fill="#000">年</text>
<text transform="translate(274.87,676.00) scale(1.0318,1.0318)" font-family='"Liberation Sans",sans-serif' font-size="31.5" letter-spacing="0" fill="#000">8</text>
<text transform="translate(301.56,676.77) scale(1.0444,1.0444)" font-family='"Liberation Sans","Noto Sans CJK SC",sans-serif' font-size="31" letter-spacing="0" fill="#000">月</text>
<text transform="translate(337.17,676.00) scale(1.0318,1.0318)" font-family='"Liberation Sans",sans-serif' font-size="31.5" letter-spacing="0" fill="#000">8</text>
<text transform="translate(360.98,676.77) scale(1.0444,1.0444)" font-family='"Liberation Sans","Noto Sans CJK SC",sans-serif' font-size="31" letter-spacing="0" fill="#000">日</text>
<text transform="translate(399.47,676.00) scale(1.0318,1.0318)" font-family='"Liberation Sans",sans-serif' font-size="31.5" letter-spacing="0" fill="#000">04</text>
<text transform="translate(441.86,676.98) scale(0.9724,0.9724)" font-family='"Liberation Sans","Noto Sans CJK SC",sans-serif' font-size="31" letter-spacing="0" fill="#000">时</text>
<text transform="translate(470.43,677.73) scale(1.0846,1.0846)" font-family='"Liberation Sans","Noto Sans CJK SC",sans-serif' font-size="31" letter-spacing="0" fill="#000">至</text>
<text transform="translate(512.94,676.00) scale(1.0318,1.0318)" font-family='"Liberation Sans",sans-serif' font-size="31.5" letter-spacing="0" fill="#000">16</text>
<text transform="translate(552.55,677.05) scale(0.9750,0.9750)" font-family='"Liberation Sans","Noto Sans CJK SC",sans-serif' font-size="31" letter-spacing="0" fill="#000">时山东省降水分布</text>
<text transform="translate(790.95,677.76) scale(1.0024,1.0024)" font-family='"Liberation Sans","Noto Sans CJK SC",sans-serif' font-size="31" letter-spacing="0" fill="#000">（毫米）</text>
<text transform="translate(287.40,175.63) scale(1.0138,0.8357)" font-family='"Liberation Sans","Noto Sans CJK SC",sans-serif' font-size="13.5" letter-spacing="3.5" font-weight="500" fill="#111">德州</text>
<text transform="translate(415.28,160.51) scale(1.0179,0.8429)" font-family='"Liberation Sans","Noto Sans CJK SC",sans-serif' font-size="13.5" letter-spacing="3.5" font-weight="500" fill="#111">滨州</text>
<text transform="translate(497.20,166.77) scale(1.0000,0.8143)" font-family='"Liberation Sans","Noto Sans CJK SC",sans-serif' font-size="13.5" letter-spacing="3.5" font-weight="500" fill="#111">东营</text>
<text transform="translate(430.99,240.11) scale(1.0103,0.8429)" font-family='"Liberation Sans","Noto Sans CJK SC",sans-serif' font-size="13.5" letter-spacing="3.5" font-weight="500" fill="#111">淄博</text>
<text transform="translate(337.99,266.33) scale(1.0138,0.8357)" font-family='"Liberation Sans","Noto Sans CJK SC",sans-serif' font-size="13.5" letter-spacing="3.5" font-weight="500" fill="#111">济南</text>
<text transform="translate(231.40,285.47) scale(1.0000,0.8143)" font-family='"Liberation Sans","Noto Sans CJK SC",sans-serif' font-size="13.5" letter-spacing="3.5" font-weight="500" fill="#111">聊城</text>
<text transform="translate(545.97,273.87) scale(1.0345,0.9143)" font-family='"Liberation Sans","Noto Sans CJK SC",sans-serif' font-size="13.5" letter-spacing="3.5" font-weight="500" fill="#111">潍坊</text>
<text transform="translate(725.30,175.51) scale(1.0000,0.8929)" font-family='"Liberation Sans","Noto Sans CJK SC",sans-serif' font-size="13.5" letter-spacing="3.5" font-weight="500" fill="#111">烟台</text>
<text transform="translate(835.70,192.43) scale(0.9733,0.8357)" font-family='"Liberation Sans","Noto Sans CJK SC",sans-serif' font-size="13.5" letter-spacing="3.5" font-weight="500" fill="#111">威海</text>
<text transform="translate(660.37,295.27) scale(1.0345,0.9143)" font-family='"Liberation Sans","Noto Sans CJK SC",sans-serif' font-size="13.5" letter-spacing="3.5" font-weight="500" fill="#111">青岛</text>
<text transform="translate(345.70,339.36) scale(1.0467,1.0214)" font-family='"Liberation Sans","Noto Sans CJK SC",sans-serif' font-size="13.5" letter-spacing="3.5" font-weight="500" fill="#111">泰安</text>
<text transform="translate(288.92,406.76) scale(1.0828,0.9214)" font-family='"Liberation Sans","Noto Sans CJK SC",sans-serif' font-size="13.5" letter-spacing="3.5" font-weight="500" fill="#111">济宁</text>
<text transform="translate(171.59,425.93) scale(1.0138,0.8357)" font-family='"Liberation Sans","Noto Sans CJK SC",sans-serif' font-size="13.5" letter-spacing="3.5" font-weight="500" fill="#111">菏泽</text>
<text transform="translate(376.28,478.31) scale(1.0241,0.8429)" font-family='"Liberation Sans","Noto Sans CJK SC",sans-serif' font-size="13.5" letter-spacing="3.5" font-weight="500" fill="#111">枣庄</text>
<text transform="translate(470.41,456.96) scale(0.9862,0.8214)" font-family='"Liberation Sans","Noto Sans CJK SC",sans-serif' font-size="13.5" letter-spacing="3.5" font-weight="500" fill="#111">临沂</text>
<text transform="translate(563.76,409.65) scale(0.9714,0.8769)" font-family='"Liberation Sans","Noto Sans CJK SC",sans-serif' font-size="13.5" letter-spacing="3.5" font-weight="500" fill="#111">日照</text>
<text transform="translate(-0.42,87.60) scale(0.9172,1.0000)" font-family='"Liberation Sans",sans-serif' font-size="14" letter-spacing="0" fill="#111">38°N</text>
<text transform="translate(-0.42,209.70) scale(0.9172,1.0200)" font-family='"Liberation Sans",sans-serif' font-size="14" letter-spacing="0" fill="#111">37°N</text>
<text transform="translate(-0.42,331.80) scale(0.9172,1.0200)" font-family='"Liberation Sans",sans-serif' font-size="14" letter-spacing="0" fill="#111">36°N</text>
<text transform="translate(-0.42,453.90) scale(0.9172,1.0200)" font-family='"Liberation Sans",sans-serif' font-size="14" letter-spacing="0" fill="#111">35°N</text>
<text transform="translate(-0.42,575.90) scale(0.9172,1.0100)" font-family='"Liberation Sans",sans-serif' font-size="14" letter-spacing="0" fill="#111">34°N</text>
<text transform="translate(123.05,596.10) scale(0.7972,1.0600)" font-family='"Liberation Sans",sans-serif' font-size="14" letter-spacing="0" fill="#111">115°E</text>
<text transform="translate(225.15,596.10) scale(0.7972,1.0600)" font-family='"Liberation Sans",sans-serif' font-size="14" letter-spacing="0" fill="#111">116°E</text>
<text transform="translate(328.21,596.10) scale(0.7944,1.0600)" font-family='"Liberation Sans",sans-serif' font-size="14" letter-spacing="0" fill="#111">117°E</text>
<text transform="translate(430.09,596.10) scale(0.8056,1.0600)" font-family='"Liberation Sans",sans-serif' font-size="14" letter-spacing="0" fill="#111">118°E</text>
<text transform="translate(532.01,596.10) scale(0.7944,1.0600)" font-family='"Liberation Sans",sans-serif' font-size="14" letter-spacing="0" fill="#111">119°E</text>
<text transform="translate(632.77,596.10) scale(0.8324,1.0600)" font-family='"Liberation Sans",sans-serif' font-size="14" letter-spacing="0" fill="#111">120°E</text>
<text transform="translate(736.02,596.10) scale(0.7784,1.0600)" font-family='"Liberation Sans",sans-serif' font-size="14" letter-spacing="0" fill="#111">121°E</text>
<text transform="translate(837.38,596.10) scale(0.8216,1.0600)" font-family='"Liberation Sans",sans-serif' font-size="14" letter-spacing="0" fill="#111">122°E</text>
<text transform="translate(940.18,596.10) scale(0.8216,1.0600)" font-family='"Liberation Sans",sans-serif' font-size="14" letter-spacing="0" fill="#111">123°E</text>
<text transform="translate(854.17,277.70) scale(0.9324,1.1600)" font-family='"Liberation Sans",sans-serif' font-size="15.5" letter-spacing="0" fill="#c800c8">142.5</text>
<text transform="translate(871.68,323.80) scale(0.9250,1.1600)" font-family='"Liberation Sans",sans-serif' font-size="15.5" letter-spacing="0" fill="#c800c8">100</text>
<text transform="translate(879.75,369.50) scale(1.0500,1.1600)" font-family='"Liberation Sans",sans-serif' font-size="15.5" letter-spacing="0" fill="#c800c8">50</text>
<text transform="translate(879.79,416.60) scale(1.0125,1.1600)" font-family='"Liberation Sans",sans-serif' font-size="15.5" letter-spacing="0" fill="#c800c8">25</text>
<text transform="translate(880.74,462.80) scale(0.9562,1.1600)" font-family='"Liberation Sans",sans-serif' font-size="15.5" letter-spacing="0" fill="#c800c8">10</text>
<text transform="translate(875.70,508.70) scale(0.7762,1.1600)" font-family='"Liberation Sans",sans-serif' font-size="15.5" letter-spacing="0" fill="#c800c8">0.1</text>
<text transform="translate(890.60,554.90) scale(0.9875,1.1600)" font-family='"Liberation Sans",sans-serif' font-size="15.5" letter-spacing="0" fill="#c800c8">0</text>
<text transform="translate(954.98,451.53) rotate(-90) scale(1.3147,1.1615)" font-family='"Liberation Sans","Noto Sans CJK SC",sans-serif' font-size="13" fill="#a01818">（毫米）</text>
</svg>
</body></html>
